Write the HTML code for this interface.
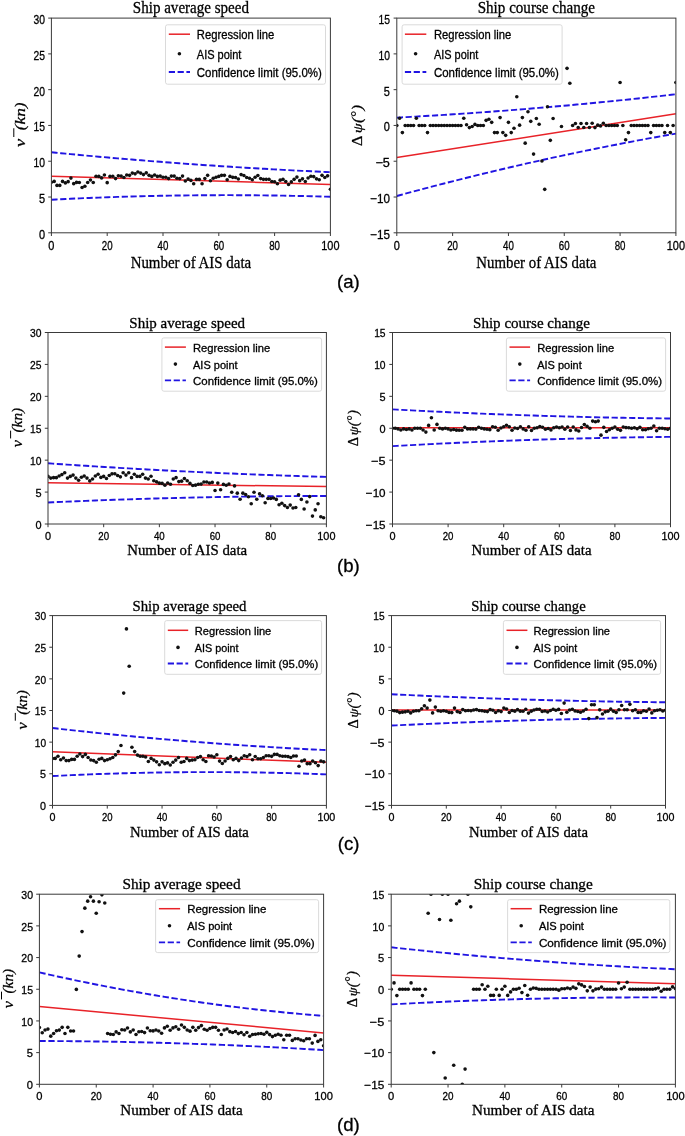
<!DOCTYPE html>
<html><head><meta charset="utf-8"><style>
html,body{margin:0;padding:0;background:#fff;}
body{width:685px;height:1136px;overflow:hidden;}
svg{display:block;filter:blur(0.4px);}
</style></head><body>
<svg width="685" height="1136" viewBox="0 0 685 1136">
<rect width="685" height="1136" fill="#fff"/>
<clipPath id="caL"><rect x="51.4" y="18.1" width="279.0" height="214.70000000000002"/></clipPath>
<g clip-path="url(#caL)">
<polyline points="51.40,152.29 56.13,152.75 60.86,153.21 65.59,153.66 70.32,154.11 75.04,154.55 79.77,154.99 84.50,155.43 89.23,155.86 93.96,156.28 98.69,156.71 103.42,157.13 108.15,157.54 112.87,157.95 117.60,158.36 122.33,158.76 127.06,159.15 131.79,159.55 136.52,159.94 141.25,160.32 145.98,160.70 150.71,161.08 155.43,161.45 160.16,161.81 164.89,162.18 169.62,162.54 174.35,162.89 179.08,163.24 183.81,163.59 188.54,163.93 193.26,164.26 197.99,164.60 202.72,164.93 207.45,165.25 212.18,165.57 216.91,165.89 221.64,166.20 226.37,166.50 231.09,166.81 235.82,167.11 240.55,167.40 245.28,167.69 250.01,167.98 254.74,168.26 259.47,168.54 264.20,168.81 268.93,169.08 273.65,169.34 278.38,169.60 283.11,169.86 287.84,170.11 292.57,170.36 297.30,170.60 302.03,170.84 306.76,171.07 311.48,171.30 316.21,171.53 320.94,171.75 325.67,171.97 330.40,172.18" fill="none" stroke="#2014e2" stroke-width="1.9" stroke-dasharray="6.20 2.60"/>
<polyline points="51.40,199.72 56.13,199.47 60.86,199.24 65.59,199.01 70.32,198.78 75.04,198.57 79.77,198.36 84.50,198.15 89.23,197.96 93.96,197.77 98.69,197.59 103.42,197.41 108.15,197.24 112.87,197.08 117.60,196.92 122.33,196.77 127.06,196.63 131.79,196.49 136.52,196.36 141.25,196.24 145.98,196.12 150.71,196.01 155.43,195.91 160.16,195.82 164.89,195.73 169.62,195.64 174.35,195.57 179.08,195.50 183.81,195.43 188.54,195.38 193.26,195.33 197.99,195.29 202.72,195.25 207.45,195.22 212.18,195.20 216.91,195.18 221.64,195.17 226.37,195.17 231.09,195.17 235.82,195.18 240.55,195.20 245.28,195.22 250.01,195.25 254.74,195.29 259.47,195.34 264.20,195.39 268.93,195.44 273.65,195.51 278.38,195.58 283.11,195.65 287.84,195.74 292.57,195.83 297.30,195.93 302.03,196.03 306.76,196.14 311.48,196.26 316.21,196.38 320.94,196.51 325.67,196.65 330.40,196.79" fill="none" stroke="#2014e2" stroke-width="1.9" stroke-dasharray="6.20 2.60"/>
<line x1="51.40" y1="176.26" x2="330.40" y2="184.49" stroke="#e82228" stroke-width="1.5"/>
<circle cx="51.40" cy="182.20" r="1.8" fill="#111"/>
<circle cx="54.19" cy="181.42" r="1.8" fill="#111"/>
<circle cx="56.98" cy="185.42" r="1.8" fill="#111"/>
<circle cx="59.77" cy="185.42" r="1.8" fill="#111"/>
<circle cx="62.56" cy="181.42" r="1.8" fill="#111"/>
<circle cx="65.35" cy="182.92" r="1.8" fill="#111"/>
<circle cx="68.14" cy="181.63" r="1.8" fill="#111"/>
<circle cx="70.93" cy="178.12" r="1.8" fill="#111"/>
<circle cx="73.72" cy="183.63" r="1.8" fill="#111"/>
<circle cx="76.51" cy="182.42" r="1.8" fill="#111"/>
<circle cx="79.30" cy="182.56" r="1.8" fill="#111"/>
<circle cx="82.09" cy="187.50" r="1.8" fill="#111"/>
<circle cx="84.88" cy="186.21" r="1.8" fill="#111"/>
<circle cx="87.67" cy="182.56" r="1.8" fill="#111"/>
<circle cx="90.46" cy="179.98" r="1.8" fill="#111"/>
<circle cx="93.25" cy="182.56" r="1.8" fill="#111"/>
<circle cx="96.04" cy="176.19" r="1.8" fill="#111"/>
<circle cx="98.83" cy="176.41" r="1.8" fill="#111"/>
<circle cx="101.62" cy="177.91" r="1.8" fill="#111"/>
<circle cx="104.41" cy="174.97" r="1.8" fill="#111"/>
<circle cx="107.20" cy="182.63" r="1.8" fill="#111"/>
<circle cx="109.99" cy="176.41" r="1.8" fill="#111"/>
<circle cx="112.78" cy="176.26" r="1.8" fill="#111"/>
<circle cx="115.57" cy="178.62" r="1.8" fill="#111"/>
<circle cx="118.36" cy="175.69" r="1.8" fill="#111"/>
<circle cx="121.15" cy="176.12" r="1.8" fill="#111"/>
<circle cx="123.94" cy="177.48" r="1.8" fill="#111"/>
<circle cx="126.73" cy="174.97" r="1.8" fill="#111"/>
<circle cx="129.52" cy="175.33" r="1.8" fill="#111"/>
<circle cx="132.31" cy="173.11" r="1.8" fill="#111"/>
<circle cx="135.10" cy="173.83" r="1.8" fill="#111"/>
<circle cx="137.89" cy="171.97" r="1.8" fill="#111"/>
<circle cx="140.68" cy="173.11" r="1.8" fill="#111"/>
<circle cx="143.47" cy="174.62" r="1.8" fill="#111"/>
<circle cx="146.26" cy="172.83" r="1.8" fill="#111"/>
<circle cx="149.05" cy="175.33" r="1.8" fill="#111"/>
<circle cx="151.84" cy="176.41" r="1.8" fill="#111"/>
<circle cx="154.63" cy="174.97" r="1.8" fill="#111"/>
<circle cx="157.42" cy="176.41" r="1.8" fill="#111"/>
<circle cx="160.21" cy="176.12" r="1.8" fill="#111"/>
<circle cx="163.00" cy="177.19" r="1.8" fill="#111"/>
<circle cx="165.79" cy="177.19" r="1.8" fill="#111"/>
<circle cx="168.58" cy="178.62" r="1.8" fill="#111"/>
<circle cx="171.37" cy="176.12" r="1.8" fill="#111"/>
<circle cx="174.16" cy="176.12" r="1.8" fill="#111"/>
<circle cx="176.95" cy="178.27" r="1.8" fill="#111"/>
<circle cx="179.74" cy="178.62" r="1.8" fill="#111"/>
<circle cx="182.53" cy="176.12" r="1.8" fill="#111"/>
<circle cx="185.32" cy="180.99" r="1.8" fill="#111"/>
<circle cx="188.11" cy="179.12" r="1.8" fill="#111"/>
<circle cx="190.90" cy="180.41" r="1.8" fill="#111"/>
<circle cx="193.69" cy="183.71" r="1.8" fill="#111"/>
<circle cx="196.48" cy="179.34" r="1.8" fill="#111"/>
<circle cx="199.27" cy="179.34" r="1.8" fill="#111"/>
<circle cx="202.06" cy="183.71" r="1.8" fill="#111"/>
<circle cx="204.85" cy="178.62" r="1.8" fill="#111"/>
<circle cx="207.64" cy="175.33" r="1.8" fill="#111"/>
<circle cx="210.43" cy="180.77" r="1.8" fill="#111"/>
<circle cx="213.22" cy="178.27" r="1.8" fill="#111"/>
<circle cx="216.01" cy="177.19" r="1.8" fill="#111"/>
<circle cx="218.80" cy="176.41" r="1.8" fill="#111"/>
<circle cx="221.59" cy="175.33" r="1.8" fill="#111"/>
<circle cx="224.38" cy="175.33" r="1.8" fill="#111"/>
<circle cx="227.17" cy="179.70" r="1.8" fill="#111"/>
<circle cx="229.96" cy="176.41" r="1.8" fill="#111"/>
<circle cx="232.75" cy="177.34" r="1.8" fill="#111"/>
<circle cx="235.54" cy="177.48" r="1.8" fill="#111"/>
<circle cx="238.33" cy="178.98" r="1.8" fill="#111"/>
<circle cx="241.12" cy="174.62" r="1.8" fill="#111"/>
<circle cx="243.91" cy="175.55" r="1.8" fill="#111"/>
<circle cx="246.70" cy="177.48" r="1.8" fill="#111"/>
<circle cx="249.49" cy="178.27" r="1.8" fill="#111"/>
<circle cx="252.28" cy="179.70" r="1.8" fill="#111"/>
<circle cx="255.07" cy="177.19" r="1.8" fill="#111"/>
<circle cx="257.86" cy="175.55" r="1.8" fill="#111"/>
<circle cx="260.65" cy="178.62" r="1.8" fill="#111"/>
<circle cx="263.44" cy="179.34" r="1.8" fill="#111"/>
<circle cx="266.23" cy="179.34" r="1.8" fill="#111"/>
<circle cx="269.02" cy="179.34" r="1.8" fill="#111"/>
<circle cx="271.81" cy="181.49" r="1.8" fill="#111"/>
<circle cx="274.60" cy="181.70" r="1.8" fill="#111"/>
<circle cx="277.39" cy="183.71" r="1.8" fill="#111"/>
<circle cx="280.18" cy="180.13" r="1.8" fill="#111"/>
<circle cx="282.97" cy="179.34" r="1.8" fill="#111"/>
<circle cx="285.76" cy="181.49" r="1.8" fill="#111"/>
<circle cx="288.55" cy="184.49" r="1.8" fill="#111"/>
<circle cx="291.34" cy="181.92" r="1.8" fill="#111"/>
<circle cx="294.13" cy="179.34" r="1.8" fill="#111"/>
<circle cx="296.92" cy="177.12" r="1.8" fill="#111"/>
<circle cx="299.71" cy="180.63" r="1.8" fill="#111"/>
<circle cx="302.50" cy="178.84" r="1.8" fill="#111"/>
<circle cx="305.29" cy="181.49" r="1.8" fill="#111"/>
<circle cx="308.08" cy="178.05" r="1.8" fill="#111"/>
<circle cx="310.87" cy="176.19" r="1.8" fill="#111"/>
<circle cx="313.66" cy="176.62" r="1.8" fill="#111"/>
<circle cx="316.45" cy="178.84" r="1.8" fill="#111"/>
<circle cx="319.24" cy="179.70" r="1.8" fill="#111"/>
<circle cx="322.03" cy="175.33" r="1.8" fill="#111"/>
<circle cx="324.82" cy="177.55" r="1.8" fill="#111"/>
<circle cx="327.61" cy="175.83" r="1.8" fill="#111"/>
<circle cx="330.40" cy="189.29" r="1.8" fill="#111"/>
</g>
<rect x="51.40" y="18.10" width="279.00" height="214.70" fill="none" stroke="#3a3a3a" stroke-width="1.0"/>
<line x1="48.20" y1="232.80" x2="51.40" y2="232.80" stroke="#3a3a3a" stroke-width="1.0" />
<text x="45.00" y="238.70" font-size="12.30" font-family='"Liberation Sans", sans-serif' text-anchor="end" fill="#000" textLength="6.10" lengthAdjust="spacingAndGlyphs" stroke="#000" stroke-width="0.3" >0</text>
<line x1="48.20" y1="197.02" x2="51.40" y2="197.02" stroke="#3a3a3a" stroke-width="1.0" />
<text x="45.00" y="202.92" font-size="12.30" font-family='"Liberation Sans", sans-serif' text-anchor="end" fill="#000" textLength="6.10" lengthAdjust="spacingAndGlyphs" stroke="#000" stroke-width="0.3" >5</text>
<line x1="48.20" y1="161.23" x2="51.40" y2="161.23" stroke="#3a3a3a" stroke-width="1.0" />
<text x="45.00" y="167.13" font-size="12.30" font-family='"Liberation Sans", sans-serif' text-anchor="end" fill="#000" textLength="11.50" lengthAdjust="spacingAndGlyphs" stroke="#000" stroke-width="0.3" >10</text>
<line x1="48.20" y1="125.45" x2="51.40" y2="125.45" stroke="#3a3a3a" stroke-width="1.0" />
<text x="45.00" y="131.35" font-size="12.30" font-family='"Liberation Sans", sans-serif' text-anchor="end" fill="#000" textLength="11.50" lengthAdjust="spacingAndGlyphs" stroke="#000" stroke-width="0.3" >15</text>
<line x1="48.20" y1="89.67" x2="51.40" y2="89.67" stroke="#3a3a3a" stroke-width="1.0" />
<text x="45.00" y="95.57" font-size="12.30" font-family='"Liberation Sans", sans-serif' text-anchor="end" fill="#000" textLength="11.50" lengthAdjust="spacingAndGlyphs" stroke="#000" stroke-width="0.3" >20</text>
<line x1="48.20" y1="53.88" x2="51.40" y2="53.88" stroke="#3a3a3a" stroke-width="1.0" />
<text x="45.00" y="59.78" font-size="12.30" font-family='"Liberation Sans", sans-serif' text-anchor="end" fill="#000" textLength="11.50" lengthAdjust="spacingAndGlyphs" stroke="#000" stroke-width="0.3" >25</text>
<line x1="48.20" y1="18.10" x2="51.40" y2="18.10" stroke="#3a3a3a" stroke-width="1.0" />
<text x="45.00" y="24.00" font-size="12.30" font-family='"Liberation Sans", sans-serif' text-anchor="end" fill="#000" textLength="11.50" lengthAdjust="spacingAndGlyphs" stroke="#000" stroke-width="0.3" >30</text>
<line x1="51.40" y1="232.80" x2="51.40" y2="236.00" stroke="#3a3a3a" stroke-width="1.0" />
<text x="51.40" y="249.90" font-size="12.30" font-family='"Liberation Sans", sans-serif' text-anchor="middle" fill="#000" textLength="6.10" lengthAdjust="spacingAndGlyphs" stroke="#000" stroke-width="0.3" >0</text>
<line x1="107.20" y1="232.80" x2="107.20" y2="236.00" stroke="#3a3a3a" stroke-width="1.0" />
<text x="107.20" y="249.90" font-size="12.30" font-family='"Liberation Sans", sans-serif' text-anchor="middle" fill="#000" textLength="10.80" lengthAdjust="spacingAndGlyphs" stroke="#000" stroke-width="0.3" >20</text>
<line x1="163.00" y1="232.80" x2="163.00" y2="236.00" stroke="#3a3a3a" stroke-width="1.0" />
<text x="163.00" y="249.90" font-size="12.30" font-family='"Liberation Sans", sans-serif' text-anchor="middle" fill="#000" textLength="10.80" lengthAdjust="spacingAndGlyphs" stroke="#000" stroke-width="0.3" >40</text>
<line x1="218.80" y1="232.80" x2="218.80" y2="236.00" stroke="#3a3a3a" stroke-width="1.0" />
<text x="218.80" y="249.90" font-size="12.30" font-family='"Liberation Sans", sans-serif' text-anchor="middle" fill="#000" textLength="10.80" lengthAdjust="spacingAndGlyphs" stroke="#000" stroke-width="0.3" >60</text>
<line x1="274.60" y1="232.80" x2="274.60" y2="236.00" stroke="#3a3a3a" stroke-width="1.0" />
<text x="274.60" y="249.90" font-size="12.30" font-family='"Liberation Sans", sans-serif' text-anchor="middle" fill="#000" textLength="10.80" lengthAdjust="spacingAndGlyphs" stroke="#000" stroke-width="0.3" >80</text>
<line x1="330.40" y1="232.80" x2="330.40" y2="236.00" stroke="#3a3a3a" stroke-width="1.0" />
<text x="330.40" y="249.90" font-size="12.30" font-family='"Liberation Sans", sans-serif' text-anchor="middle" fill="#000" textLength="18.20" lengthAdjust="spacingAndGlyphs" stroke="#000" stroke-width="0.3" >100</text>
<text x="190.90" y="12.50" font-size="17.00" font-family='"Liberation Serif", serif' text-anchor="middle" fill="#000" textLength="116.10" lengthAdjust="spacingAndGlyphs" stroke="#000" stroke-width="0.3" >Ship average speed</text>
<text x="190.90" y="268.40" font-size="17.00" font-family='"Liberation Serif", serif' text-anchor="middle" fill="#000" textLength="120.50" lengthAdjust="spacingAndGlyphs" stroke="#000" stroke-width="0.3" >Number of AIS data</text>
<g transform="translate(25.10,146.24) rotate(-90) scale(1.13,1)" font-family='"Liberation Serif", serif' font-style="italic" fill="#000" stroke="#000" stroke-width="0.25"><text x="-0.6" y="0" font-size="14.6" textLength="7.2" lengthAdjust="spacingAndGlyphs">v</text><line x1="8.2" y1="-11.3" x2="16.0" y2="-11.3" stroke="#000" stroke-width="1.0"/><text x="14.2" y="0" font-size="14.6" textLength="24.6" lengthAdjust="spacingAndGlyphs">(kn)</text></g>
<rect x="165.50" y="24.80" width="160.00" height="59.40" rx="2" ry="2" fill="#fff" fill-opacity="0.8" stroke="#d6d6d6" stroke-width="0.9"/>
<line x1="168.80" y1="34.20" x2="190.00" y2="34.20" stroke="#e82228" stroke-width="1.5"/>
<circle cx="179.40" cy="53.80" r="1.8" fill="#111"/>
<line x1="168.80" y1="72.00" x2="190.00" y2="72.00" stroke="#2014e2" stroke-width="1.9" stroke-dasharray="6.2 2.6"/>
<text x="196.80" y="39.20" font-size="12.40" font-family='"Liberation Sans", sans-serif' text-anchor="start" fill="#000" textLength="77.51" lengthAdjust="spacingAndGlyphs" stroke="#000" stroke-width="0.3" >Regression line</text>
<text x="196.80" y="58.80" font-size="12.40" font-family='"Liberation Sans", sans-serif' text-anchor="start" fill="#000" textLength="44.60" lengthAdjust="spacingAndGlyphs" stroke="#000" stroke-width="0.3" >AIS point</text>
<text x="196.80" y="77.00" font-size="12.40" font-family='"Liberation Sans", sans-serif' text-anchor="start" fill="#000" textLength="125.03" lengthAdjust="spacingAndGlyphs" stroke="#000" stroke-width="0.3" >Confidence limit (95.0%)</text>
<clipPath id="caR"><rect x="396.8" y="18.1" width="279.09999999999997" height="214.70000000000002"/></clipPath>
<g clip-path="url(#caR)">
<polyline points="396.80,117.62 401.53,117.37 406.26,117.11 410.99,116.85 415.72,116.58 420.45,116.31 425.18,116.04 429.91,115.75 434.64,115.47 439.37,115.18 444.11,114.88 448.84,114.58 453.57,114.28 458.30,113.96 463.03,113.65 467.76,113.33 472.49,113.00 477.22,112.67 481.95,112.33 486.68,111.99 491.41,111.65 496.14,111.30 500.87,110.94 505.60,110.58 510.33,110.21 515.06,109.84 519.79,109.47 524.52,109.09 529.25,108.70 533.98,108.31 538.72,107.91 543.45,107.51 548.18,107.11 552.91,106.70 557.64,106.28 562.37,105.86 567.10,105.43 571.83,105.00 576.56,104.57 581.29,104.13 586.02,103.68 590.75,103.23 595.48,102.78 600.21,102.31 604.94,101.85 609.67,101.38 614.40,100.90 619.13,100.42 623.86,99.94 628.59,99.44 633.33,98.95 638.06,98.45 642.79,97.94 647.52,97.43 652.25,96.92 656.98,96.40 661.71,95.87 666.44,95.34 671.17,94.80 675.90,94.26" fill="none" stroke="#2014e2" stroke-width="1.9" stroke-dasharray="6.20 2.60"/>
<polyline points="396.80,196.00 401.53,194.71 406.26,193.43 410.99,192.16 415.72,190.89 420.45,189.64 425.18,188.39 429.91,187.15 434.64,185.92 439.37,184.69 444.11,183.48 448.84,182.27 453.57,181.07 458.30,179.87 463.03,178.69 467.76,177.51 472.49,176.34 477.22,175.18 481.95,174.03 486.68,172.89 491.41,171.75 496.14,170.62 500.87,169.50 505.60,168.39 510.33,167.28 515.06,166.18 519.79,165.09 524.52,164.01 529.25,162.94 533.98,161.87 538.72,160.82 543.45,159.77 548.18,158.72 552.91,157.69 557.64,156.66 562.37,155.65 567.10,154.64 571.83,153.63 576.56,152.64 581.29,151.65 586.02,150.68 590.75,149.71 595.48,148.74 600.21,147.79 604.94,146.84 609.67,145.90 614.40,144.97 619.13,144.05 623.86,143.14 628.59,142.23 633.33,141.33 638.06,140.44 642.79,139.56 647.52,138.68 652.25,137.81 656.98,136.95 661.71,136.10 666.44,135.26 671.17,134.42 675.90,133.60" fill="none" stroke="#2014e2" stroke-width="1.9" stroke-dasharray="6.20 2.60"/>
<line x1="396.80" y1="157.44" x2="675.90" y2="113.86" stroke="#e82228" stroke-width="1.5"/>
<circle cx="396.80" cy="125.45" r="1.8" fill="#111"/>
<circle cx="399.59" cy="118.29" r="1.8" fill="#111"/>
<circle cx="402.38" cy="132.61" r="1.8" fill="#111"/>
<circle cx="405.17" cy="125.45" r="1.8" fill="#111"/>
<circle cx="407.96" cy="125.45" r="1.8" fill="#111"/>
<circle cx="410.75" cy="125.45" r="1.8" fill="#111"/>
<circle cx="413.55" cy="125.45" r="1.8" fill="#111"/>
<circle cx="416.34" cy="118.29" r="1.8" fill="#111"/>
<circle cx="419.13" cy="125.45" r="1.8" fill="#111"/>
<circle cx="421.92" cy="125.45" r="1.8" fill="#111"/>
<circle cx="424.71" cy="125.45" r="1.8" fill="#111"/>
<circle cx="427.50" cy="132.61" r="1.8" fill="#111"/>
<circle cx="430.29" cy="125.45" r="1.8" fill="#111"/>
<circle cx="433.08" cy="125.45" r="1.8" fill="#111"/>
<circle cx="435.87" cy="125.45" r="1.8" fill="#111"/>
<circle cx="438.67" cy="125.45" r="1.8" fill="#111"/>
<circle cx="441.46" cy="125.45" r="1.8" fill="#111"/>
<circle cx="444.25" cy="125.45" r="1.8" fill="#111"/>
<circle cx="447.04" cy="125.45" r="1.8" fill="#111"/>
<circle cx="449.83" cy="125.45" r="1.8" fill="#111"/>
<circle cx="452.62" cy="125.45" r="1.8" fill="#111"/>
<circle cx="455.41" cy="125.45" r="1.8" fill="#111"/>
<circle cx="458.20" cy="125.45" r="1.8" fill="#111"/>
<circle cx="460.99" cy="125.45" r="1.8" fill="#111"/>
<circle cx="463.78" cy="118.29" r="1.8" fill="#111"/>
<circle cx="466.57" cy="124.73" r="1.8" fill="#111"/>
<circle cx="469.37" cy="127.60" r="1.8" fill="#111"/>
<circle cx="472.16" cy="126.52" r="1.8" fill="#111"/>
<circle cx="474.95" cy="124.38" r="1.8" fill="#111"/>
<circle cx="477.74" cy="125.45" r="1.8" fill="#111"/>
<circle cx="480.53" cy="125.45" r="1.8" fill="#111"/>
<circle cx="483.32" cy="125.45" r="1.8" fill="#111"/>
<circle cx="486.11" cy="120.37" r="1.8" fill="#111"/>
<circle cx="488.90" cy="119.30" r="1.8" fill="#111"/>
<circle cx="491.69" cy="122.37" r="1.8" fill="#111"/>
<circle cx="494.49" cy="132.61" r="1.8" fill="#111"/>
<circle cx="497.28" cy="132.61" r="1.8" fill="#111"/>
<circle cx="500.07" cy="117.58" r="1.8" fill="#111"/>
<circle cx="502.86" cy="132.61" r="1.8" fill="#111"/>
<circle cx="505.65" cy="135.33" r="1.8" fill="#111"/>
<circle cx="508.44" cy="122.37" r="1.8" fill="#111"/>
<circle cx="511.23" cy="132.61" r="1.8" fill="#111"/>
<circle cx="514.02" cy="128.24" r="1.8" fill="#111"/>
<circle cx="516.81" cy="96.82" r="1.8" fill="#111"/>
<circle cx="519.60" cy="125.16" r="1.8" fill="#111"/>
<circle cx="522.39" cy="117.58" r="1.8" fill="#111"/>
<circle cx="525.19" cy="143.13" r="1.8" fill="#111"/>
<circle cx="527.98" cy="111.71" r="1.8" fill="#111"/>
<circle cx="530.77" cy="121.37" r="1.8" fill="#111"/>
<circle cx="533.56" cy="154.08" r="1.8" fill="#111"/>
<circle cx="536.35" cy="118.44" r="1.8" fill="#111"/>
<circle cx="539.14" cy="124.23" r="1.8" fill="#111"/>
<circle cx="541.93" cy="161.02" r="1.8" fill="#111"/>
<circle cx="544.72" cy="189.36" r="1.8" fill="#111"/>
<circle cx="547.51" cy="106.77" r="1.8" fill="#111"/>
<circle cx="550.31" cy="140.34" r="1.8" fill="#111"/>
<circle cx="553.10" cy="118.44" r="1.8" fill="#111"/>
<circle cx="561.47" cy="126.45" r="1.8" fill="#111"/>
<circle cx="567.05" cy="68.34" r="1.8" fill="#111"/>
<circle cx="569.84" cy="83.23" r="1.8" fill="#111"/>
<circle cx="572.63" cy="125.45" r="1.8" fill="#111"/>
<circle cx="575.42" cy="123.45" r="1.8" fill="#111"/>
<circle cx="578.21" cy="127.53" r="1.8" fill="#111"/>
<circle cx="581.01" cy="123.45" r="1.8" fill="#111"/>
<circle cx="583.80" cy="127.53" r="1.8" fill="#111"/>
<circle cx="586.59" cy="123.45" r="1.8" fill="#111"/>
<circle cx="589.38" cy="127.53" r="1.8" fill="#111"/>
<circle cx="592.17" cy="123.30" r="1.8" fill="#111"/>
<circle cx="594.96" cy="127.60" r="1.8" fill="#111"/>
<circle cx="597.75" cy="125.16" r="1.8" fill="#111"/>
<circle cx="600.54" cy="125.88" r="1.8" fill="#111"/>
<circle cx="603.33" cy="123.30" r="1.8" fill="#111"/>
<circle cx="606.12" cy="125.45" r="1.8" fill="#111"/>
<circle cx="608.92" cy="125.45" r="1.8" fill="#111"/>
<circle cx="611.71" cy="125.45" r="1.8" fill="#111"/>
<circle cx="614.50" cy="125.45" r="1.8" fill="#111"/>
<circle cx="617.29" cy="125.45" r="1.8" fill="#111"/>
<circle cx="620.08" cy="82.51" r="1.8" fill="#111"/>
<circle cx="622.87" cy="125.45" r="1.8" fill="#111"/>
<circle cx="625.66" cy="139.76" r="1.8" fill="#111"/>
<circle cx="628.45" cy="132.61" r="1.8" fill="#111"/>
<circle cx="631.24" cy="125.45" r="1.8" fill="#111"/>
<circle cx="634.03" cy="125.45" r="1.8" fill="#111"/>
<circle cx="636.83" cy="125.45" r="1.8" fill="#111"/>
<circle cx="639.62" cy="125.45" r="1.8" fill="#111"/>
<circle cx="642.41" cy="125.45" r="1.8" fill="#111"/>
<circle cx="645.20" cy="125.45" r="1.8" fill="#111"/>
<circle cx="647.99" cy="125.45" r="1.8" fill="#111"/>
<circle cx="650.78" cy="132.61" r="1.8" fill="#111"/>
<circle cx="653.57" cy="125.45" r="1.8" fill="#111"/>
<circle cx="656.36" cy="125.45" r="1.8" fill="#111"/>
<circle cx="659.15" cy="125.45" r="1.8" fill="#111"/>
<circle cx="661.94" cy="125.45" r="1.8" fill="#111"/>
<circle cx="664.74" cy="132.61" r="1.8" fill="#111"/>
<circle cx="667.53" cy="125.45" r="1.8" fill="#111"/>
<circle cx="670.32" cy="132.61" r="1.8" fill="#111"/>
<circle cx="673.11" cy="125.45" r="1.8" fill="#111"/>
<circle cx="675.90" cy="82.51" r="1.8" fill="#111"/>
</g>
<rect x="396.80" y="18.10" width="279.10" height="214.70" fill="none" stroke="#3a3a3a" stroke-width="1.0"/>
<line x1="393.60" y1="232.80" x2="396.80" y2="232.80" stroke="#3a3a3a" stroke-width="1.0" />
<text x="389.90" y="238.70" font-size="12.30" font-family='"Liberation Sans", sans-serif' text-anchor="end" fill="#000" textLength="19.80" lengthAdjust="spacingAndGlyphs" stroke="#000" stroke-width="0.3" >−15</text>
<line x1="393.60" y1="197.02" x2="396.80" y2="197.02" stroke="#3a3a3a" stroke-width="1.0" />
<text x="389.90" y="202.92" font-size="12.30" font-family='"Liberation Sans", sans-serif' text-anchor="end" fill="#000" textLength="19.80" lengthAdjust="spacingAndGlyphs" stroke="#000" stroke-width="0.3" >−10</text>
<line x1="393.60" y1="161.23" x2="396.80" y2="161.23" stroke="#3a3a3a" stroke-width="1.0" />
<text x="389.90" y="167.13" font-size="12.30" font-family='"Liberation Sans", sans-serif' text-anchor="end" fill="#000" textLength="14.40" lengthAdjust="spacingAndGlyphs" stroke="#000" stroke-width="0.3" >−5</text>
<line x1="393.60" y1="125.45" x2="396.80" y2="125.45" stroke="#3a3a3a" stroke-width="1.0" />
<text x="389.90" y="131.35" font-size="12.30" font-family='"Liberation Sans", sans-serif' text-anchor="end" fill="#000" textLength="6.10" lengthAdjust="spacingAndGlyphs" stroke="#000" stroke-width="0.3" >0</text>
<line x1="393.60" y1="89.67" x2="396.80" y2="89.67" stroke="#3a3a3a" stroke-width="1.0" />
<text x="389.90" y="95.57" font-size="12.30" font-family='"Liberation Sans", sans-serif' text-anchor="end" fill="#000" textLength="6.10" lengthAdjust="spacingAndGlyphs" stroke="#000" stroke-width="0.3" >5</text>
<line x1="393.60" y1="53.88" x2="396.80" y2="53.88" stroke="#3a3a3a" stroke-width="1.0" />
<text x="389.90" y="59.78" font-size="12.30" font-family='"Liberation Sans", sans-serif' text-anchor="end" fill="#000" textLength="11.50" lengthAdjust="spacingAndGlyphs" stroke="#000" stroke-width="0.3" >10</text>
<line x1="393.60" y1="18.10" x2="396.80" y2="18.10" stroke="#3a3a3a" stroke-width="1.0" />
<text x="389.90" y="24.00" font-size="12.30" font-family='"Liberation Sans", sans-serif' text-anchor="end" fill="#000" textLength="11.50" lengthAdjust="spacingAndGlyphs" stroke="#000" stroke-width="0.3" >15</text>
<line x1="396.80" y1="232.80" x2="396.80" y2="236.00" stroke="#3a3a3a" stroke-width="1.0" />
<text x="396.80" y="249.90" font-size="12.30" font-family='"Liberation Sans", sans-serif' text-anchor="middle" fill="#000" textLength="6.10" lengthAdjust="spacingAndGlyphs" stroke="#000" stroke-width="0.3" >0</text>
<line x1="452.62" y1="232.80" x2="452.62" y2="236.00" stroke="#3a3a3a" stroke-width="1.0" />
<text x="452.62" y="249.90" font-size="12.30" font-family='"Liberation Sans", sans-serif' text-anchor="middle" fill="#000" textLength="10.80" lengthAdjust="spacingAndGlyphs" stroke="#000" stroke-width="0.3" >20</text>
<line x1="508.44" y1="232.80" x2="508.44" y2="236.00" stroke="#3a3a3a" stroke-width="1.0" />
<text x="508.44" y="249.90" font-size="12.30" font-family='"Liberation Sans", sans-serif' text-anchor="middle" fill="#000" textLength="10.80" lengthAdjust="spacingAndGlyphs" stroke="#000" stroke-width="0.3" >40</text>
<line x1="564.26" y1="232.80" x2="564.26" y2="236.00" stroke="#3a3a3a" stroke-width="1.0" />
<text x="564.26" y="249.90" font-size="12.30" font-family='"Liberation Sans", sans-serif' text-anchor="middle" fill="#000" textLength="10.80" lengthAdjust="spacingAndGlyphs" stroke="#000" stroke-width="0.3" >60</text>
<line x1="620.08" y1="232.80" x2="620.08" y2="236.00" stroke="#3a3a3a" stroke-width="1.0" />
<text x="620.08" y="249.90" font-size="12.30" font-family='"Liberation Sans", sans-serif' text-anchor="middle" fill="#000" textLength="10.80" lengthAdjust="spacingAndGlyphs" stroke="#000" stroke-width="0.3" >80</text>
<line x1="675.90" y1="232.80" x2="675.90" y2="236.00" stroke="#3a3a3a" stroke-width="1.0" />
<text x="675.90" y="249.90" font-size="12.30" font-family='"Liberation Sans", sans-serif' text-anchor="middle" fill="#000" textLength="18.21" lengthAdjust="spacingAndGlyphs" stroke="#000" stroke-width="0.3" >100</text>
<text x="536.35" y="12.50" font-size="17.00" font-family='"Liberation Serif", serif' text-anchor="middle" fill="#000" textLength="117.30" lengthAdjust="spacingAndGlyphs" stroke="#000" stroke-width="0.3" >Ship course change</text>
<text x="536.35" y="268.40" font-size="17.00" font-family='"Liberation Serif", serif' text-anchor="middle" fill="#000" textLength="120.00" lengthAdjust="spacingAndGlyphs" stroke="#000" stroke-width="0.3" >Number of AIS data</text>
<g transform="translate(362.00,145.68) rotate(-90) scale(1.13,1)" font-family='"Liberation Serif", serif' fill="#000" stroke="#000" stroke-width="0.25"><text x="-0.2" y="0" font-size="14.2" textLength="9.2" lengthAdjust="spacingAndGlyphs">Δ</text><text x="10.9" y="0" font-size="12.4" font-style="italic" textLength="8.8" lengthAdjust="spacingAndGlyphs">ψ</text><text x="20.0" y="0" font-size="14.2" font-style="italic" textLength="4.9" lengthAdjust="spacingAndGlyphs">(</text><text x="25.6" y="-1.2" font-size="14.5" textLength="5.2" lengthAdjust="spacingAndGlyphs">°</text><text x="31.2" y="0" font-size="14.2" font-style="italic" textLength="4.9" lengthAdjust="spacingAndGlyphs">)</text></g>
<rect x="402.10" y="24.80" width="160.00" height="59.40" rx="2" ry="2" fill="#fff" fill-opacity="0.8" stroke="#d6d6d6" stroke-width="0.9"/>
<line x1="404.90" y1="34.20" x2="426.30" y2="34.20" stroke="#e82228" stroke-width="1.5"/>
<circle cx="415.60" cy="53.80" r="1.8" fill="#111"/>
<line x1="404.90" y1="72.00" x2="426.30" y2="72.00" stroke="#2014e2" stroke-width="1.9" stroke-dasharray="6.2 2.6"/>
<text x="433.90" y="39.20" font-size="12.40" font-family='"Liberation Sans", sans-serif' text-anchor="start" fill="#000" textLength="77.41" lengthAdjust="spacingAndGlyphs" stroke="#000" stroke-width="0.3" >Regression line</text>
<text x="433.90" y="58.80" font-size="12.40" font-family='"Liberation Sans", sans-serif' text-anchor="start" fill="#000" textLength="44.40" lengthAdjust="spacingAndGlyphs" stroke="#000" stroke-width="0.3" >AIS point</text>
<text x="433.90" y="77.00" font-size="12.40" font-family='"Liberation Sans", sans-serif' text-anchor="start" fill="#000" textLength="124.93" lengthAdjust="spacingAndGlyphs" stroke="#000" stroke-width="0.3" >Confidence limit (95.0%)</text>
<clipPath id="cbL"><rect x="48.0" y="332.5" width="278.4" height="191.5"/></clipPath>
<g clip-path="url(#cbL)">
<polyline points="48.00,463.29 52.72,463.62 57.44,463.94 62.16,464.26 66.87,464.58 71.59,464.89 76.31,465.20 81.03,465.51 85.75,465.81 90.47,466.11 95.19,466.41 99.91,466.70 104.62,466.99 109.34,467.28 114.06,467.56 118.78,467.84 123.50,468.12 128.22,468.39 132.94,468.66 137.65,468.93 142.37,469.19 147.09,469.45 151.81,469.71 156.53,469.96 161.25,470.21 165.97,470.46 170.68,470.70 175.40,470.94 180.12,471.18 184.84,471.41 189.56,471.64 194.28,471.87 199.00,472.09 203.72,472.32 208.43,472.53 213.15,472.75 217.87,472.96 222.59,473.16 227.31,473.37 232.03,473.57 236.75,473.77 241.46,473.96 246.18,474.15 250.90,474.34 255.62,474.52 260.34,474.70 265.06,474.88 269.78,475.06 274.49,475.23 279.21,475.40 283.93,475.56 288.65,475.72 293.37,475.88 298.09,476.03 302.81,476.18 307.53,476.33 312.24,476.48 316.96,476.62 321.68,476.76 326.40,476.89" fill="none" stroke="#2014e2" stroke-width="1.9" stroke-dasharray="6.19 2.59"/>
<polyline points="48.00,502.47 52.72,502.26 57.44,502.05 62.16,501.84 66.87,501.64 71.59,501.44 76.31,501.25 81.03,501.06 85.75,500.87 90.47,500.68 95.19,500.50 99.91,500.33 104.62,500.15 109.34,499.98 114.06,499.82 118.78,499.65 123.50,499.49 128.22,499.34 132.94,499.18 137.65,499.03 142.37,498.89 147.09,498.75 151.81,498.61 156.53,498.47 161.25,498.34 165.97,498.21 170.68,498.09 175.40,497.97 180.12,497.85 184.84,497.74 189.56,497.63 194.28,497.52 199.00,497.42 203.72,497.32 208.43,497.22 213.15,497.13 217.87,497.04 222.59,496.95 227.31,496.87 232.03,496.79 236.75,496.72 241.46,496.65 246.18,496.58 250.90,496.51 255.62,496.45 260.34,496.40 265.06,496.34 269.78,496.29 274.49,496.25 279.21,496.20 283.93,496.16 288.65,496.13 293.37,496.09 298.09,496.06 302.81,496.04 307.53,496.02 312.24,496.00 316.96,495.98 321.68,495.97 326.40,495.96" fill="none" stroke="#2014e2" stroke-width="1.9" stroke-dasharray="6.19 2.59"/>
<line x1="48.00" y1="482.83" x2="326.40" y2="486.59" stroke="#e82228" stroke-width="1.5"/>
<circle cx="48.00" cy="476.38" r="1.8" fill="#111"/>
<circle cx="50.78" cy="478.10" r="1.8" fill="#111"/>
<circle cx="53.57" cy="477.66" r="1.8" fill="#111"/>
<circle cx="56.35" cy="477.66" r="1.8" fill="#111"/>
<circle cx="59.14" cy="475.93" r="1.8" fill="#111"/>
<circle cx="61.92" cy="474.59" r="1.8" fill="#111"/>
<circle cx="64.70" cy="472.68" r="1.8" fill="#111"/>
<circle cx="67.49" cy="478.10" r="1.8" fill="#111"/>
<circle cx="70.27" cy="476.38" r="1.8" fill="#111"/>
<circle cx="73.06" cy="475.10" r="1.8" fill="#111"/>
<circle cx="75.84" cy="478.10" r="1.8" fill="#111"/>
<circle cx="78.62" cy="480.27" r="1.8" fill="#111"/>
<circle cx="81.41" cy="477.21" r="1.8" fill="#111"/>
<circle cx="84.19" cy="475.93" r="1.8" fill="#111"/>
<circle cx="86.98" cy="478.10" r="1.8" fill="#111"/>
<circle cx="89.76" cy="480.91" r="1.8" fill="#111"/>
<circle cx="92.54" cy="479.00" r="1.8" fill="#111"/>
<circle cx="95.33" cy="475.93" r="1.8" fill="#111"/>
<circle cx="98.11" cy="474.21" r="1.8" fill="#111"/>
<circle cx="100.90" cy="477.40" r="1.8" fill="#111"/>
<circle cx="103.68" cy="476.38" r="1.8" fill="#111"/>
<circle cx="106.46" cy="478.55" r="1.8" fill="#111"/>
<circle cx="109.25" cy="475.49" r="1.8" fill="#111"/>
<circle cx="112.03" cy="473.83" r="1.8" fill="#111"/>
<circle cx="114.82" cy="473.70" r="1.8" fill="#111"/>
<circle cx="117.60" cy="475.49" r="1.8" fill="#111"/>
<circle cx="120.38" cy="476.83" r="1.8" fill="#111"/>
<circle cx="123.17" cy="472.68" r="1.8" fill="#111"/>
<circle cx="125.95" cy="475.10" r="1.8" fill="#111"/>
<circle cx="128.74" cy="472.68" r="1.8" fill="#111"/>
<circle cx="131.52" cy="477.66" r="1.8" fill="#111"/>
<circle cx="134.30" cy="474.21" r="1.8" fill="#111"/>
<circle cx="137.09" cy="476.38" r="1.8" fill="#111"/>
<circle cx="139.87" cy="476.38" r="1.8" fill="#111"/>
<circle cx="142.66" cy="474.21" r="1.8" fill="#111"/>
<circle cx="145.44" cy="478.10" r="1.8" fill="#111"/>
<circle cx="148.22" cy="479.00" r="1.8" fill="#111"/>
<circle cx="151.01" cy="476.19" r="1.8" fill="#111"/>
<circle cx="153.79" cy="480.78" r="1.8" fill="#111"/>
<circle cx="156.58" cy="481.87" r="1.8" fill="#111"/>
<circle cx="159.36" cy="483.15" r="1.8" fill="#111"/>
<circle cx="162.14" cy="483.40" r="1.8" fill="#111"/>
<circle cx="164.93" cy="485.13" r="1.8" fill="#111"/>
<circle cx="167.71" cy="483.02" r="1.8" fill="#111"/>
<circle cx="170.50" cy="484.30" r="1.8" fill="#111"/>
<circle cx="173.28" cy="479.00" r="1.8" fill="#111"/>
<circle cx="176.06" cy="477.66" r="1.8" fill="#111"/>
<circle cx="178.85" cy="481.61" r="1.8" fill="#111"/>
<circle cx="181.63" cy="481.17" r="1.8" fill="#111"/>
<circle cx="184.42" cy="478.55" r="1.8" fill="#111"/>
<circle cx="187.20" cy="480.78" r="1.8" fill="#111"/>
<circle cx="189.98" cy="483.40" r="1.8" fill="#111"/>
<circle cx="192.77" cy="485.57" r="1.8" fill="#111"/>
<circle cx="195.55" cy="485.13" r="1.8" fill="#111"/>
<circle cx="198.34" cy="484.30" r="1.8" fill="#111"/>
<circle cx="201.12" cy="484.10" r="1.8" fill="#111"/>
<circle cx="203.90" cy="482.06" r="1.8" fill="#111"/>
<circle cx="206.69" cy="482.06" r="1.8" fill="#111"/>
<circle cx="209.47" cy="483.02" r="1.8" fill="#111"/>
<circle cx="212.26" cy="482.38" r="1.8" fill="#111"/>
<circle cx="215.04" cy="490.55" r="1.8" fill="#111"/>
<circle cx="217.82" cy="483.08" r="1.8" fill="#111"/>
<circle cx="220.61" cy="489.72" r="1.8" fill="#111"/>
<circle cx="223.39" cy="484.42" r="1.8" fill="#111"/>
<circle cx="226.18" cy="485.32" r="1.8" fill="#111"/>
<circle cx="228.96" cy="483.98" r="1.8" fill="#111"/>
<circle cx="231.74" cy="492.27" r="1.8" fill="#111"/>
<circle cx="234.53" cy="485.89" r="1.8" fill="#111"/>
<circle cx="237.31" cy="493.17" r="1.8" fill="#111"/>
<circle cx="240.10" cy="499.30" r="1.8" fill="#111"/>
<circle cx="242.88" cy="493.17" r="1.8" fill="#111"/>
<circle cx="245.66" cy="494.51" r="1.8" fill="#111"/>
<circle cx="248.45" cy="496.68" r="1.8" fill="#111"/>
<circle cx="251.23" cy="503.70" r="1.8" fill="#111"/>
<circle cx="254.02" cy="492.27" r="1.8" fill="#111"/>
<circle cx="256.80" cy="499.30" r="1.8" fill="#111"/>
<circle cx="259.58" cy="493.87" r="1.8" fill="#111"/>
<circle cx="262.37" cy="495.79" r="1.8" fill="#111"/>
<circle cx="265.15" cy="502.81" r="1.8" fill="#111"/>
<circle cx="267.94" cy="498.47" r="1.8" fill="#111"/>
<circle cx="270.72" cy="498.47" r="1.8" fill="#111"/>
<circle cx="273.50" cy="498.02" r="1.8" fill="#111"/>
<circle cx="276.29" cy="499.42" r="1.8" fill="#111"/>
<circle cx="279.07" cy="504.72" r="1.8" fill="#111"/>
<circle cx="281.86" cy="503.25" r="1.8" fill="#111"/>
<circle cx="284.64" cy="505.62" r="1.8" fill="#111"/>
<circle cx="287.42" cy="507.53" r="1.8" fill="#111"/>
<circle cx="290.21" cy="505.11" r="1.8" fill="#111"/>
<circle cx="292.99" cy="508.04" r="1.8" fill="#111"/>
<circle cx="295.78" cy="507.53" r="1.8" fill="#111"/>
<circle cx="298.56" cy="494.70" r="1.8" fill="#111"/>
<circle cx="301.34" cy="499.42" r="1.8" fill="#111"/>
<circle cx="304.13" cy="508.94" r="1.8" fill="#111"/>
<circle cx="306.91" cy="501.98" r="1.8" fill="#111"/>
<circle cx="309.70" cy="496.62" r="1.8" fill="#111"/>
<circle cx="312.48" cy="516.08" r="1.8" fill="#111"/>
<circle cx="315.26" cy="509.89" r="1.8" fill="#111"/>
<circle cx="318.05" cy="503.70" r="1.8" fill="#111"/>
<circle cx="320.83" cy="516.79" r="1.8" fill="#111"/>
<circle cx="323.62" cy="517.81" r="1.8" fill="#111"/>
</g>
<rect x="48.00" y="332.50" width="278.40" height="191.50" fill="none" stroke="#3a3a3a" stroke-width="1.0"/>
<line x1="44.80" y1="524.00" x2="48.00" y2="524.00" stroke="#3a3a3a" stroke-width="1.0" />
<text x="41.60" y="528.70" font-size="11.70" font-family='"Liberation Sans", sans-serif' text-anchor="end" fill="#000" textLength="6.09" lengthAdjust="spacingAndGlyphs" stroke="#000" stroke-width="0.3" >0</text>
<line x1="44.80" y1="492.08" x2="48.00" y2="492.08" stroke="#3a3a3a" stroke-width="1.0" />
<text x="41.60" y="496.78" font-size="11.70" font-family='"Liberation Sans", sans-serif' text-anchor="end" fill="#000" textLength="6.09" lengthAdjust="spacingAndGlyphs" stroke="#000" stroke-width="0.3" >5</text>
<line x1="44.80" y1="460.17" x2="48.00" y2="460.17" stroke="#3a3a3a" stroke-width="1.0" />
<text x="41.60" y="464.87" font-size="11.70" font-family='"Liberation Sans", sans-serif' text-anchor="end" fill="#000" textLength="11.48" lengthAdjust="spacingAndGlyphs" stroke="#000" stroke-width="0.3" >10</text>
<line x1="44.80" y1="428.25" x2="48.00" y2="428.25" stroke="#3a3a3a" stroke-width="1.0" />
<text x="41.60" y="432.95" font-size="11.70" font-family='"Liberation Sans", sans-serif' text-anchor="end" fill="#000" textLength="11.48" lengthAdjust="spacingAndGlyphs" stroke="#000" stroke-width="0.3" >15</text>
<line x1="44.80" y1="396.33" x2="48.00" y2="396.33" stroke="#3a3a3a" stroke-width="1.0" />
<text x="41.60" y="401.03" font-size="11.70" font-family='"Liberation Sans", sans-serif' text-anchor="end" fill="#000" textLength="11.48" lengthAdjust="spacingAndGlyphs" stroke="#000" stroke-width="0.3" >20</text>
<line x1="44.80" y1="364.42" x2="48.00" y2="364.42" stroke="#3a3a3a" stroke-width="1.0" />
<text x="41.60" y="369.12" font-size="11.70" font-family='"Liberation Sans", sans-serif' text-anchor="end" fill="#000" textLength="11.48" lengthAdjust="spacingAndGlyphs" stroke="#000" stroke-width="0.3" >25</text>
<line x1="44.80" y1="332.50" x2="48.00" y2="332.50" stroke="#3a3a3a" stroke-width="1.0" />
<text x="41.60" y="337.20" font-size="11.70" font-family='"Liberation Sans", sans-serif' text-anchor="end" fill="#000" textLength="11.48" lengthAdjust="spacingAndGlyphs" stroke="#000" stroke-width="0.3" >30</text>
<line x1="48.00" y1="524.00" x2="48.00" y2="527.20" stroke="#3a3a3a" stroke-width="1.0" />
<text x="48.00" y="539.90" font-size="11.70" font-family='"Liberation Sans", sans-serif' text-anchor="middle" fill="#000" textLength="6.09" lengthAdjust="spacingAndGlyphs" stroke="#000" stroke-width="0.3" >0</text>
<line x1="103.68" y1="524.00" x2="103.68" y2="527.20" stroke="#3a3a3a" stroke-width="1.0" />
<text x="103.68" y="539.90" font-size="11.70" font-family='"Liberation Sans", sans-serif' text-anchor="middle" fill="#000" textLength="10.78" lengthAdjust="spacingAndGlyphs" stroke="#000" stroke-width="0.3" >20</text>
<line x1="159.36" y1="524.00" x2="159.36" y2="527.20" stroke="#3a3a3a" stroke-width="1.0" />
<text x="159.36" y="539.90" font-size="11.70" font-family='"Liberation Sans", sans-serif' text-anchor="middle" fill="#000" textLength="10.78" lengthAdjust="spacingAndGlyphs" stroke="#000" stroke-width="0.3" >40</text>
<line x1="215.04" y1="524.00" x2="215.04" y2="527.20" stroke="#3a3a3a" stroke-width="1.0" />
<text x="215.04" y="539.90" font-size="11.70" font-family='"Liberation Sans", sans-serif' text-anchor="middle" fill="#000" textLength="10.78" lengthAdjust="spacingAndGlyphs" stroke="#000" stroke-width="0.3" >60</text>
<line x1="270.72" y1="524.00" x2="270.72" y2="527.20" stroke="#3a3a3a" stroke-width="1.0" />
<text x="270.72" y="539.90" font-size="11.70" font-family='"Liberation Sans", sans-serif' text-anchor="middle" fill="#000" textLength="10.78" lengthAdjust="spacingAndGlyphs" stroke="#000" stroke-width="0.3" >80</text>
<line x1="326.40" y1="524.00" x2="326.40" y2="527.20" stroke="#3a3a3a" stroke-width="1.0" />
<text x="326.40" y="539.90" font-size="11.70" font-family='"Liberation Sans", sans-serif' text-anchor="middle" fill="#000" textLength="18.16" lengthAdjust="spacingAndGlyphs" stroke="#000" stroke-width="0.3" >100</text>
<text x="187.20" y="327.60" font-size="15.50" font-family='"Liberation Serif", serif' text-anchor="middle" fill="#000" textLength="115.70" lengthAdjust="spacingAndGlyphs" stroke="#000" stroke-width="0.3" >Ship average speed</text>
<text x="187.20" y="555.40" font-size="15.00" font-family='"Liberation Serif", serif' text-anchor="middle" fill="#000" textLength="120.00" lengthAdjust="spacingAndGlyphs" stroke="#000" stroke-width="0.3" >Number of AIS data</text>
<g transform="translate(21.90,446.65) rotate(-90) scale(1.0,1)" font-family='"Liberation Serif", serif' font-style="italic" fill="#000" stroke="#000" stroke-width="0.25"><text x="-0.6" y="0" font-size="14.6" textLength="7.2" lengthAdjust="spacingAndGlyphs">v</text><line x1="8.2" y1="-11.3" x2="16.0" y2="-11.3" stroke="#000" stroke-width="1.0"/><text x="14.2" y="0" font-size="14.6" textLength="24.6" lengthAdjust="spacingAndGlyphs">(kn)</text></g>
<rect x="161.90" y="337.90" width="159.70" height="53.30" rx="2" ry="2" fill="#fff" fill-opacity="0.8" stroke="#d6d6d6" stroke-width="0.9"/>
<line x1="164.90" y1="347.10" x2="185.90" y2="347.10" stroke="#e82228" stroke-width="1.5"/>
<circle cx="175.40" cy="364.10" r="1.8" fill="#111"/>
<line x1="164.90" y1="380.40" x2="185.90" y2="380.40" stroke="#2014e2" stroke-width="1.9" stroke-dasharray="6.2 2.6"/>
<text x="193.00" y="351.55" font-size="10.90" font-family='"Liberation Sans", sans-serif' text-anchor="start" fill="#000" textLength="77.21" lengthAdjust="spacingAndGlyphs" stroke="#000" stroke-width="0.3" >Regression line</text>
<text x="193.00" y="368.55" font-size="10.90" font-family='"Liberation Sans", sans-serif' text-anchor="start" fill="#000" textLength="44.60" lengthAdjust="spacingAndGlyphs" stroke="#000" stroke-width="0.3" >AIS point</text>
<text x="193.00" y="384.85" font-size="10.90" font-family='"Liberation Sans", sans-serif' text-anchor="start" fill="#000" textLength="124.83" lengthAdjust="spacingAndGlyphs" stroke="#000" stroke-width="0.3" >Confidence limit (95.0%)</text>
<clipPath id="cbR"><rect x="392.5" y="332.5" width="278.0" height="191.5"/></clipPath>
<g clip-path="url(#cbR)">
<polyline points="392.50,409.36 397.21,409.61 401.92,409.87 406.64,410.12 411.35,410.37 416.06,410.61 420.77,410.86 425.48,411.09 430.19,411.33 434.91,411.56 439.62,411.78 444.33,412.01 449.04,412.23 453.75,412.44 458.47,412.65 463.18,412.86 467.89,413.07 472.60,413.27 477.31,413.47 482.03,413.66 486.74,413.85 491.45,414.04 496.16,414.22 500.87,414.40 505.58,414.58 510.30,414.75 515.01,414.92 519.72,415.09 524.43,415.25 529.14,415.41 533.86,415.56 538.57,415.71 543.28,415.86 547.99,416.00 552.70,416.14 557.42,416.28 562.13,416.41 566.84,416.54 571.55,416.67 576.26,416.79 580.97,416.91 585.69,417.02 590.40,417.14 595.11,417.24 599.82,417.35 604.53,417.45 609.25,417.55 613.96,417.64 618.67,417.73 623.38,417.82 628.09,417.90 632.81,417.98 637.52,418.05 642.23,418.13 646.94,418.20 651.65,418.26 656.36,418.32 661.08,418.38 665.79,418.43 670.50,418.48" fill="none" stroke="#2014e2" stroke-width="1.9" stroke-dasharray="6.18 2.59"/>
<polyline points="392.50,446.12 397.21,445.86 401.92,445.60 406.64,445.34 411.35,445.08 416.06,444.83 420.77,444.59 425.48,444.34 430.19,444.11 434.91,443.87 439.62,443.64 444.33,443.41 449.04,443.19 453.75,442.97 458.47,442.75 463.18,442.54 467.89,442.33 472.60,442.12 477.31,441.92 482.03,441.72 486.74,441.53 491.45,441.34 496.16,441.15 500.87,440.97 505.58,440.79 510.30,440.61 515.01,440.44 519.72,440.27 524.43,440.11 529.14,439.95 533.86,439.79 538.57,439.64 543.28,439.49 547.99,439.34 552.70,439.20 557.42,439.06 562.13,438.93 566.84,438.80 571.55,438.67 576.26,438.55 580.97,438.43 585.69,438.31 590.40,438.20 595.11,438.09 599.82,437.99 604.53,437.89 609.25,437.79 613.96,437.70 618.67,437.61 623.38,437.52 628.09,437.44 632.81,437.36 637.52,437.28 642.23,437.21 646.94,437.15 651.65,437.08 656.36,437.02 661.08,436.97 665.79,436.92 670.50,436.87" fill="none" stroke="#2014e2" stroke-width="1.9" stroke-dasharray="6.18 2.59"/>
<line x1="392.50" y1="427.87" x2="670.50" y2="427.87" stroke="#e82228" stroke-width="1.5"/>
<circle cx="392.50" cy="428.25" r="1.8" fill="#111"/>
<circle cx="395.28" cy="428.25" r="1.8" fill="#111"/>
<circle cx="398.06" cy="428.89" r="1.8" fill="#111"/>
<circle cx="400.84" cy="429.97" r="1.8" fill="#111"/>
<circle cx="403.62" cy="428.89" r="1.8" fill="#111"/>
<circle cx="406.40" cy="429.53" r="1.8" fill="#111"/>
<circle cx="409.18" cy="428.89" r="1.8" fill="#111"/>
<circle cx="411.96" cy="429.97" r="1.8" fill="#111"/>
<circle cx="414.74" cy="428.25" r="1.8" fill="#111"/>
<circle cx="417.52" cy="428.25" r="1.8" fill="#111"/>
<circle cx="420.30" cy="428.25" r="1.8" fill="#111"/>
<circle cx="423.08" cy="429.97" r="1.8" fill="#111"/>
<circle cx="425.86" cy="432.08" r="1.8" fill="#111"/>
<circle cx="428.64" cy="425.38" r="1.8" fill="#111"/>
<circle cx="431.42" cy="417.72" r="1.8" fill="#111"/>
<circle cx="434.20" cy="429.97" r="1.8" fill="#111"/>
<circle cx="436.98" cy="424.42" r="1.8" fill="#111"/>
<circle cx="439.76" cy="428.25" r="1.8" fill="#111"/>
<circle cx="442.54" cy="428.89" r="1.8" fill="#111"/>
<circle cx="445.32" cy="428.25" r="1.8" fill="#111"/>
<circle cx="448.10" cy="428.89" r="1.8" fill="#111"/>
<circle cx="450.88" cy="429.97" r="1.8" fill="#111"/>
<circle cx="453.66" cy="429.53" r="1.8" fill="#111"/>
<circle cx="456.44" cy="430.17" r="1.8" fill="#111"/>
<circle cx="459.22" cy="430.23" r="1.8" fill="#111"/>
<circle cx="462.00" cy="430.23" r="1.8" fill="#111"/>
<circle cx="464.78" cy="427.29" r="1.8" fill="#111"/>
<circle cx="467.56" cy="428.89" r="1.8" fill="#111"/>
<circle cx="470.34" cy="428.89" r="1.8" fill="#111"/>
<circle cx="473.12" cy="428.89" r="1.8" fill="#111"/>
<circle cx="475.90" cy="429.08" r="1.8" fill="#111"/>
<circle cx="478.68" cy="427.29" r="1.8" fill="#111"/>
<circle cx="481.46" cy="428.25" r="1.8" fill="#111"/>
<circle cx="484.24" cy="428.89" r="1.8" fill="#111"/>
<circle cx="487.02" cy="429.27" r="1.8" fill="#111"/>
<circle cx="489.80" cy="429.65" r="1.8" fill="#111"/>
<circle cx="492.58" cy="426.72" r="1.8" fill="#111"/>
<circle cx="495.36" cy="427.29" r="1.8" fill="#111"/>
<circle cx="498.14" cy="430.23" r="1.8" fill="#111"/>
<circle cx="500.92" cy="427.93" r="1.8" fill="#111"/>
<circle cx="503.70" cy="426.72" r="1.8" fill="#111"/>
<circle cx="506.48" cy="425.31" r="1.8" fill="#111"/>
<circle cx="509.26" cy="426.72" r="1.8" fill="#111"/>
<circle cx="512.04" cy="430.23" r="1.8" fill="#111"/>
<circle cx="514.82" cy="427.93" r="1.8" fill="#111"/>
<circle cx="517.60" cy="428.51" r="1.8" fill="#111"/>
<circle cx="520.38" cy="426.72" r="1.8" fill="#111"/>
<circle cx="523.16" cy="428.89" r="1.8" fill="#111"/>
<circle cx="525.94" cy="430.23" r="1.8" fill="#111"/>
<circle cx="528.72" cy="426.72" r="1.8" fill="#111"/>
<circle cx="531.50" cy="430.48" r="1.8" fill="#111"/>
<circle cx="534.28" cy="428.25" r="1.8" fill="#111"/>
<circle cx="537.06" cy="427.80" r="1.8" fill="#111"/>
<circle cx="539.84" cy="426.59" r="1.8" fill="#111"/>
<circle cx="542.62" cy="427.29" r="1.8" fill="#111"/>
<circle cx="545.40" cy="429.27" r="1.8" fill="#111"/>
<circle cx="548.18" cy="428.51" r="1.8" fill="#111"/>
<circle cx="550.96" cy="429.91" r="1.8" fill="#111"/>
<circle cx="553.74" cy="427.80" r="1.8" fill="#111"/>
<circle cx="556.52" cy="426.97" r="1.8" fill="#111"/>
<circle cx="559.30" cy="427.80" r="1.8" fill="#111"/>
<circle cx="562.08" cy="426.97" r="1.8" fill="#111"/>
<circle cx="564.86" cy="429.27" r="1.8" fill="#111"/>
<circle cx="567.64" cy="426.97" r="1.8" fill="#111"/>
<circle cx="570.42" cy="430.48" r="1.8" fill="#111"/>
<circle cx="573.20" cy="426.97" r="1.8" fill="#111"/>
<circle cx="575.98" cy="429.91" r="1.8" fill="#111"/>
<circle cx="578.76" cy="431.06" r="1.8" fill="#111"/>
<circle cx="581.54" cy="427.55" r="1.8" fill="#111"/>
<circle cx="584.32" cy="424.61" r="1.8" fill="#111"/>
<circle cx="587.10" cy="426.40" r="1.8" fill="#111"/>
<circle cx="589.88" cy="428.25" r="1.8" fill="#111"/>
<circle cx="592.66" cy="421.10" r="1.8" fill="#111"/>
<circle cx="595.44" cy="421.74" r="1.8" fill="#111"/>
<circle cx="598.22" cy="421.10" r="1.8" fill="#111"/>
<circle cx="601.00" cy="435.14" r="1.8" fill="#111"/>
<circle cx="603.78" cy="427.36" r="1.8" fill="#111"/>
<circle cx="606.56" cy="431.44" r="1.8" fill="#111"/>
<circle cx="609.34" cy="429.78" r="1.8" fill="#111"/>
<circle cx="612.12" cy="428.25" r="1.8" fill="#111"/>
<circle cx="614.90" cy="427.04" r="1.8" fill="#111"/>
<circle cx="617.68" cy="429.21" r="1.8" fill="#111"/>
<circle cx="620.46" cy="430.36" r="1.8" fill="#111"/>
<circle cx="623.24" cy="427.04" r="1.8" fill="#111"/>
<circle cx="626.02" cy="427.61" r="1.8" fill="#111"/>
<circle cx="628.80" cy="427.80" r="1.8" fill="#111"/>
<circle cx="631.58" cy="428.25" r="1.8" fill="#111"/>
<circle cx="634.36" cy="427.80" r="1.8" fill="#111"/>
<circle cx="637.14" cy="428.70" r="1.8" fill="#111"/>
<circle cx="639.92" cy="427.36" r="1.8" fill="#111"/>
<circle cx="642.70" cy="429.78" r="1.8" fill="#111"/>
<circle cx="645.48" cy="429.78" r="1.8" fill="#111"/>
<circle cx="648.26" cy="428.70" r="1.8" fill="#111"/>
<circle cx="651.04" cy="428.25" r="1.8" fill="#111"/>
<circle cx="653.82" cy="425.95" r="1.8" fill="#111"/>
<circle cx="656.60" cy="430.68" r="1.8" fill="#111"/>
<circle cx="659.38" cy="428.25" r="1.8" fill="#111"/>
<circle cx="662.16" cy="428.25" r="1.8" fill="#111"/>
<circle cx="664.94" cy="428.70" r="1.8" fill="#111"/>
<circle cx="667.72" cy="429.21" r="1.8" fill="#111"/>
<circle cx="670.50" cy="428.25" r="1.8" fill="#111"/>
</g>
<rect x="392.50" y="332.50" width="278.00" height="191.50" fill="none" stroke="#3a3a3a" stroke-width="1.0"/>
<line x1="389.30" y1="524.00" x2="392.50" y2="524.00" stroke="#3a3a3a" stroke-width="1.0" />
<text x="385.60" y="528.70" font-size="11.70" font-family='"Liberation Sans", sans-serif' text-anchor="end" fill="#000" textLength="19.76" lengthAdjust="spacingAndGlyphs" stroke="#000" stroke-width="0.3" >−15</text>
<line x1="389.30" y1="492.08" x2="392.50" y2="492.08" stroke="#3a3a3a" stroke-width="1.0" />
<text x="385.60" y="496.78" font-size="11.70" font-family='"Liberation Sans", sans-serif' text-anchor="end" fill="#000" textLength="19.76" lengthAdjust="spacingAndGlyphs" stroke="#000" stroke-width="0.3" >−10</text>
<line x1="389.30" y1="460.17" x2="392.50" y2="460.17" stroke="#3a3a3a" stroke-width="1.0" />
<text x="385.60" y="464.87" font-size="11.70" font-family='"Liberation Sans", sans-serif' text-anchor="end" fill="#000" textLength="14.38" lengthAdjust="spacingAndGlyphs" stroke="#000" stroke-width="0.3" >−5</text>
<line x1="389.30" y1="428.25" x2="392.50" y2="428.25" stroke="#3a3a3a" stroke-width="1.0" />
<text x="385.60" y="432.95" font-size="11.70" font-family='"Liberation Sans", sans-serif' text-anchor="end" fill="#000" textLength="6.08" lengthAdjust="spacingAndGlyphs" stroke="#000" stroke-width="0.3" >0</text>
<line x1="389.30" y1="396.33" x2="392.50" y2="396.33" stroke="#3a3a3a" stroke-width="1.0" />
<text x="385.60" y="401.03" font-size="11.70" font-family='"Liberation Sans", sans-serif' text-anchor="end" fill="#000" textLength="6.08" lengthAdjust="spacingAndGlyphs" stroke="#000" stroke-width="0.3" >5</text>
<line x1="389.30" y1="364.42" x2="392.50" y2="364.42" stroke="#3a3a3a" stroke-width="1.0" />
<text x="385.60" y="369.12" font-size="11.70" font-family='"Liberation Sans", sans-serif' text-anchor="end" fill="#000" textLength="11.46" lengthAdjust="spacingAndGlyphs" stroke="#000" stroke-width="0.3" >10</text>
<line x1="389.30" y1="332.50" x2="392.50" y2="332.50" stroke="#3a3a3a" stroke-width="1.0" />
<text x="385.60" y="337.20" font-size="11.70" font-family='"Liberation Sans", sans-serif' text-anchor="end" fill="#000" textLength="11.46" lengthAdjust="spacingAndGlyphs" stroke="#000" stroke-width="0.3" >15</text>
<line x1="392.50" y1="524.00" x2="392.50" y2="527.20" stroke="#3a3a3a" stroke-width="1.0" />
<text x="392.50" y="539.90" font-size="11.70" font-family='"Liberation Sans", sans-serif' text-anchor="middle" fill="#000" textLength="6.08" lengthAdjust="spacingAndGlyphs" stroke="#000" stroke-width="0.3" >0</text>
<line x1="448.10" y1="524.00" x2="448.10" y2="527.20" stroke="#3a3a3a" stroke-width="1.0" />
<text x="448.10" y="539.90" font-size="11.70" font-family='"Liberation Sans", sans-serif' text-anchor="middle" fill="#000" textLength="10.76" lengthAdjust="spacingAndGlyphs" stroke="#000" stroke-width="0.3" >20</text>
<line x1="503.70" y1="524.00" x2="503.70" y2="527.20" stroke="#3a3a3a" stroke-width="1.0" />
<text x="503.70" y="539.90" font-size="11.70" font-family='"Liberation Sans", sans-serif' text-anchor="middle" fill="#000" textLength="10.76" lengthAdjust="spacingAndGlyphs" stroke="#000" stroke-width="0.3" >40</text>
<line x1="559.30" y1="524.00" x2="559.30" y2="527.20" stroke="#3a3a3a" stroke-width="1.0" />
<text x="559.30" y="539.90" font-size="11.70" font-family='"Liberation Sans", sans-serif' text-anchor="middle" fill="#000" textLength="10.76" lengthAdjust="spacingAndGlyphs" stroke="#000" stroke-width="0.3" >60</text>
<line x1="614.90" y1="524.00" x2="614.90" y2="527.20" stroke="#3a3a3a" stroke-width="1.0" />
<text x="614.90" y="539.90" font-size="11.70" font-family='"Liberation Sans", sans-serif' text-anchor="middle" fill="#000" textLength="10.76" lengthAdjust="spacingAndGlyphs" stroke="#000" stroke-width="0.3" >80</text>
<line x1="670.50" y1="524.00" x2="670.50" y2="527.20" stroke="#3a3a3a" stroke-width="1.0" />
<text x="670.50" y="539.90" font-size="11.70" font-family='"Liberation Sans", sans-serif' text-anchor="middle" fill="#000" textLength="18.13" lengthAdjust="spacingAndGlyphs" stroke="#000" stroke-width="0.3" >100</text>
<text x="531.50" y="327.60" font-size="15.50" font-family='"Liberation Serif", serif' text-anchor="middle" fill="#000" textLength="116.90" lengthAdjust="spacingAndGlyphs" stroke="#000" stroke-width="0.3" >Ship course change</text>
<text x="531.50" y="555.40" font-size="15.00" font-family='"Liberation Serif", serif' text-anchor="middle" fill="#000" textLength="120.00" lengthAdjust="spacingAndGlyphs" stroke="#000" stroke-width="0.3" >Number of AIS data</text>
<g transform="translate(357.80,446.15) rotate(-90) scale(1.0,1)" font-family='"Liberation Serif", serif' fill="#000" stroke="#000" stroke-width="0.25"><text x="-0.2" y="0" font-size="14.2" textLength="9.2" lengthAdjust="spacingAndGlyphs">Δ</text><text x="10.9" y="0" font-size="12.4" font-style="italic" textLength="8.8" lengthAdjust="spacingAndGlyphs">ψ</text><text x="20.0" y="0" font-size="14.2" font-style="italic" textLength="4.9" lengthAdjust="spacingAndGlyphs">(</text><text x="25.6" y="-1.2" font-size="14.5" textLength="5.2" lengthAdjust="spacingAndGlyphs">°</text><text x="31.2" y="0" font-size="14.2" font-style="italic" textLength="4.9" lengthAdjust="spacingAndGlyphs">)</text></g>
<rect x="506.40" y="337.90" width="159.20" height="53.30" rx="2" ry="2" fill="#fff" fill-opacity="0.8" stroke="#d6d6d6" stroke-width="0.9"/>
<line x1="509.50" y1="347.10" x2="530.10" y2="347.10" stroke="#e82228" stroke-width="1.5"/>
<circle cx="519.80" cy="364.10" r="1.8" fill="#111"/>
<line x1="509.50" y1="380.40" x2="530.10" y2="380.40" stroke="#2014e2" stroke-width="1.9" stroke-dasharray="6.2 2.6"/>
<text x="537.20" y="351.55" font-size="10.90" font-family='"Liberation Sans", sans-serif' text-anchor="start" fill="#000" textLength="77.00" lengthAdjust="spacingAndGlyphs" stroke="#000" stroke-width="0.3" >Regression line</text>
<text x="537.20" y="368.55" font-size="10.90" font-family='"Liberation Sans", sans-serif' text-anchor="start" fill="#000" textLength="44.60" lengthAdjust="spacingAndGlyphs" stroke="#000" stroke-width="0.3" >AIS point</text>
<text x="537.20" y="384.85" font-size="10.90" font-family='"Liberation Sans", sans-serif' text-anchor="start" fill="#000" textLength="124.83" lengthAdjust="spacingAndGlyphs" stroke="#000" stroke-width="0.3" >Confidence limit (95.0%)</text>
<clipPath id="ccL"><rect x="52.5" y="615.6" width="273.9" height="189.79999999999995"/></clipPath>
<g clip-path="url(#ccL)">
<polyline points="52.50,728.02 57.14,728.55 61.78,729.08 66.43,729.59 71.07,730.11 75.71,730.61 80.35,731.11 85.00,731.61 89.64,732.10 94.28,732.59 98.92,733.07 103.57,733.54 108.21,734.01 112.85,734.48 117.49,734.94 122.14,735.39 126.78,735.84 131.42,736.28 136.06,736.72 140.71,737.15 145.35,737.58 149.99,738.00 154.63,738.42 159.27,738.83 163.92,739.24 168.56,739.64 173.20,740.03 177.84,740.42 182.49,740.81 187.13,741.19 191.77,741.56 196.41,741.93 201.06,742.29 205.70,742.65 210.34,743.00 214.98,743.35 219.63,743.69 224.27,744.03 228.91,744.36 233.55,744.69 238.19,745.01 242.84,745.33 247.48,745.64 252.12,745.94 256.76,746.24 261.41,746.54 266.05,746.83 270.69,747.11 275.33,747.39 279.98,747.66 284.62,747.93 289.26,748.19 293.90,748.45 298.55,748.70 303.19,748.95 307.83,749.19 312.47,749.43 317.12,749.66 321.76,749.88 326.40,750.10" fill="none" stroke="#2014e2" stroke-width="1.9" stroke-dasharray="6.09 2.55"/>
<polyline points="52.50,776.06 57.14,775.83 61.78,775.60 66.43,775.38 71.07,775.17 75.71,774.97 80.35,774.77 85.00,774.58 89.64,774.40 94.28,774.22 98.92,774.05 103.57,773.89 108.21,773.74 112.85,773.59 117.49,773.45 122.14,773.31 126.78,773.19 131.42,773.07 136.06,772.95 140.71,772.85 145.35,772.75 149.99,772.66 154.63,772.57 159.27,772.49 163.92,772.42 168.56,772.36 173.20,772.30 177.84,772.25 182.49,772.21 187.13,772.17 191.77,772.14 196.41,772.12 201.06,772.11 205.70,772.10 210.34,772.10 214.98,772.11 219.63,772.12 224.27,772.14 228.91,772.17 233.55,772.20 238.19,772.24 242.84,772.29 247.48,772.34 252.12,772.41 256.76,772.48 261.41,772.55 266.05,772.64 270.69,772.73 275.33,772.82 279.98,772.93 284.62,773.04 289.26,773.16 293.90,773.28 298.55,773.41 303.19,773.55 307.83,773.70 312.47,773.85 317.12,774.01 321.76,774.18 326.40,774.35" fill="none" stroke="#2014e2" stroke-width="1.9" stroke-dasharray="6.09 2.55"/>
<line x1="52.50" y1="751.81" x2="326.40" y2="762.32" stroke="#e82228" stroke-width="1.5"/>
<circle cx="52.50" cy="758.58" r="1.8" fill="#111"/>
<circle cx="55.24" cy="758.39" r="1.8" fill="#111"/>
<circle cx="57.98" cy="756.18" r="1.8" fill="#111"/>
<circle cx="60.72" cy="759.72" r="1.8" fill="#111"/>
<circle cx="63.46" cy="758.01" r="1.8" fill="#111"/>
<circle cx="66.19" cy="760.61" r="1.8" fill="#111"/>
<circle cx="68.93" cy="760.61" r="1.8" fill="#111"/>
<circle cx="71.67" cy="759.41" r="1.8" fill="#111"/>
<circle cx="74.41" cy="759.41" r="1.8" fill="#111"/>
<circle cx="77.15" cy="756.18" r="1.8" fill="#111"/>
<circle cx="79.89" cy="754.03" r="1.8" fill="#111"/>
<circle cx="82.63" cy="756.62" r="1.8" fill="#111"/>
<circle cx="85.37" cy="754.41" r="1.8" fill="#111"/>
<circle cx="88.11" cy="757.51" r="1.8" fill="#111"/>
<circle cx="90.85" cy="759.97" r="1.8" fill="#111"/>
<circle cx="93.59" cy="760.61" r="1.8" fill="#111"/>
<circle cx="96.32" cy="762.32" r="1.8" fill="#111"/>
<circle cx="99.06" cy="759.22" r="1.8" fill="#111"/>
<circle cx="101.80" cy="758.39" r="1.8" fill="#111"/>
<circle cx="104.54" cy="760.61" r="1.8" fill="#111"/>
<circle cx="107.28" cy="759.72" r="1.8" fill="#111"/>
<circle cx="110.02" cy="758.77" r="1.8" fill="#111"/>
<circle cx="112.76" cy="757.51" r="1.8" fill="#111"/>
<circle cx="115.50" cy="754.91" r="1.8" fill="#111"/>
<circle cx="118.24" cy="751.62" r="1.8" fill="#111"/>
<circle cx="120.97" cy="745.49" r="1.8" fill="#111"/>
<circle cx="123.71" cy="693.10" r="1.8" fill="#111"/>
<circle cx="126.45" cy="628.89" r="1.8" fill="#111"/>
<circle cx="129.19" cy="666.21" r="1.8" fill="#111"/>
<circle cx="131.93" cy="747.19" r="1.8" fill="#111"/>
<circle cx="134.67" cy="751.62" r="1.8" fill="#111"/>
<circle cx="137.41" cy="755.10" r="1.8" fill="#111"/>
<circle cx="140.15" cy="756.18" r="1.8" fill="#111"/>
<circle cx="142.89" cy="756.18" r="1.8" fill="#111"/>
<circle cx="145.63" cy="757.06" r="1.8" fill="#111"/>
<circle cx="148.37" cy="761.43" r="1.8" fill="#111"/>
<circle cx="151.10" cy="758.39" r="1.8" fill="#111"/>
<circle cx="153.84" cy="760.10" r="1.8" fill="#111"/>
<circle cx="156.58" cy="761.87" r="1.8" fill="#111"/>
<circle cx="159.32" cy="764.78" r="1.8" fill="#111"/>
<circle cx="162.06" cy="761.87" r="1.8" fill="#111"/>
<circle cx="164.80" cy="763.64" r="1.8" fill="#111"/>
<circle cx="167.54" cy="762.88" r="1.8" fill="#111"/>
<circle cx="170.28" cy="764.97" r="1.8" fill="#111"/>
<circle cx="173.02" cy="762.32" r="1.8" fill="#111"/>
<circle cx="175.75" cy="760.10" r="1.8" fill="#111"/>
<circle cx="178.49" cy="757.51" r="1.8" fill="#111"/>
<circle cx="181.23" cy="762.32" r="1.8" fill="#111"/>
<circle cx="183.97" cy="761.49" r="1.8" fill="#111"/>
<circle cx="186.71" cy="758.39" r="1.8" fill="#111"/>
<circle cx="189.45" cy="760.61" r="1.8" fill="#111"/>
<circle cx="192.19" cy="760.10" r="1.8" fill="#111"/>
<circle cx="194.93" cy="759.72" r="1.8" fill="#111"/>
<circle cx="197.67" cy="757.51" r="1.8" fill="#111"/>
<circle cx="200.41" cy="756.62" r="1.8" fill="#111"/>
<circle cx="203.14" cy="759.72" r="1.8" fill="#111"/>
<circle cx="205.88" cy="761.49" r="1.8" fill="#111"/>
<circle cx="208.62" cy="755.80" r="1.8" fill="#111"/>
<circle cx="211.36" cy="755.99" r="1.8" fill="#111"/>
<circle cx="214.10" cy="757.06" r="1.8" fill="#111"/>
<circle cx="216.84" cy="754.79" r="1.8" fill="#111"/>
<circle cx="219.58" cy="761.11" r="1.8" fill="#111"/>
<circle cx="222.32" cy="763.52" r="1.8" fill="#111"/>
<circle cx="225.06" cy="760.99" r="1.8" fill="#111"/>
<circle cx="227.80" cy="758.39" r="1.8" fill="#111"/>
<circle cx="230.53" cy="756.49" r="1.8" fill="#111"/>
<circle cx="233.27" cy="759.72" r="1.8" fill="#111"/>
<circle cx="236.01" cy="758.39" r="1.8" fill="#111"/>
<circle cx="238.75" cy="760.61" r="1.8" fill="#111"/>
<circle cx="241.49" cy="758.01" r="1.8" fill="#111"/>
<circle cx="244.23" cy="755.80" r="1.8" fill="#111"/>
<circle cx="246.97" cy="756.62" r="1.8" fill="#111"/>
<circle cx="249.71" cy="754.72" r="1.8" fill="#111"/>
<circle cx="252.45" cy="759.72" r="1.8" fill="#111"/>
<circle cx="255.19" cy="756.49" r="1.8" fill="#111"/>
<circle cx="257.93" cy="758.77" r="1.8" fill="#111"/>
<circle cx="260.66" cy="758.77" r="1.8" fill="#111"/>
<circle cx="263.40" cy="757.51" r="1.8" fill="#111"/>
<circle cx="266.14" cy="755.80" r="1.8" fill="#111"/>
<circle cx="268.88" cy="755.80" r="1.8" fill="#111"/>
<circle cx="271.62" cy="756.37" r="1.8" fill="#111"/>
<circle cx="274.36" cy="754.41" r="1.8" fill="#111"/>
<circle cx="277.10" cy="754.41" r="1.8" fill="#111"/>
<circle cx="279.84" cy="755.80" r="1.8" fill="#111"/>
<circle cx="282.58" cy="756.18" r="1.8" fill="#111"/>
<circle cx="285.31" cy="756.18" r="1.8" fill="#111"/>
<circle cx="288.05" cy="756.62" r="1.8" fill="#111"/>
<circle cx="290.79" cy="757.51" r="1.8" fill="#111"/>
<circle cx="293.53" cy="755.99" r="1.8" fill="#111"/>
<circle cx="296.27" cy="755.99" r="1.8" fill="#111"/>
<circle cx="299.01" cy="766.30" r="1.8" fill="#111"/>
<circle cx="301.75" cy="760.99" r="1.8" fill="#111"/>
<circle cx="304.49" cy="760.10" r="1.8" fill="#111"/>
<circle cx="307.23" cy="763.64" r="1.8" fill="#111"/>
<circle cx="309.97" cy="763.64" r="1.8" fill="#111"/>
<circle cx="312.70" cy="760.99" r="1.8" fill="#111"/>
<circle cx="315.44" cy="762.82" r="1.8" fill="#111"/>
<circle cx="318.18" cy="765.61" r="1.8" fill="#111"/>
<circle cx="320.92" cy="760.99" r="1.8" fill="#111"/>
<circle cx="323.66" cy="761.87" r="1.8" fill="#111"/>
</g>
<rect x="52.50" y="615.60" width="273.90" height="189.80" fill="none" stroke="#3a3a3a" stroke-width="1.0"/>
<line x1="49.30" y1="805.40" x2="52.50" y2="805.40" stroke="#3a3a3a" stroke-width="1.0" />
<text x="46.10" y="810.10" font-size="11.70" font-family='"Liberation Sans", sans-serif' text-anchor="end" fill="#000" textLength="5.99" lengthAdjust="spacingAndGlyphs" stroke="#000" stroke-width="0.3" >0</text>
<line x1="49.30" y1="773.77" x2="52.50" y2="773.77" stroke="#3a3a3a" stroke-width="1.0" />
<text x="46.10" y="778.47" font-size="11.70" font-family='"Liberation Sans", sans-serif' text-anchor="end" fill="#000" textLength="5.99" lengthAdjust="spacingAndGlyphs" stroke="#000" stroke-width="0.3" >5</text>
<line x1="49.30" y1="742.13" x2="52.50" y2="742.13" stroke="#3a3a3a" stroke-width="1.0" />
<text x="46.10" y="746.83" font-size="11.70" font-family='"Liberation Sans", sans-serif' text-anchor="end" fill="#000" textLength="11.29" lengthAdjust="spacingAndGlyphs" stroke="#000" stroke-width="0.3" >10</text>
<line x1="49.30" y1="710.50" x2="52.50" y2="710.50" stroke="#3a3a3a" stroke-width="1.0" />
<text x="46.10" y="715.20" font-size="11.70" font-family='"Liberation Sans", sans-serif' text-anchor="end" fill="#000" textLength="11.29" lengthAdjust="spacingAndGlyphs" stroke="#000" stroke-width="0.3" >15</text>
<line x1="49.30" y1="678.87" x2="52.50" y2="678.87" stroke="#3a3a3a" stroke-width="1.0" />
<text x="46.10" y="683.57" font-size="11.70" font-family='"Liberation Sans", sans-serif' text-anchor="end" fill="#000" textLength="11.29" lengthAdjust="spacingAndGlyphs" stroke="#000" stroke-width="0.3" >20</text>
<line x1="49.30" y1="647.23" x2="52.50" y2="647.23" stroke="#3a3a3a" stroke-width="1.0" />
<text x="46.10" y="651.93" font-size="11.70" font-family='"Liberation Sans", sans-serif' text-anchor="end" fill="#000" textLength="11.29" lengthAdjust="spacingAndGlyphs" stroke="#000" stroke-width="0.3" >25</text>
<line x1="49.30" y1="615.60" x2="52.50" y2="615.60" stroke="#3a3a3a" stroke-width="1.0" />
<text x="46.10" y="620.30" font-size="11.70" font-family='"Liberation Sans", sans-serif' text-anchor="end" fill="#000" textLength="11.29" lengthAdjust="spacingAndGlyphs" stroke="#000" stroke-width="0.3" >30</text>
<line x1="52.50" y1="805.40" x2="52.50" y2="808.60" stroke="#3a3a3a" stroke-width="1.0" />
<text x="52.50" y="821.30" font-size="11.70" font-family='"Liberation Sans", sans-serif' text-anchor="middle" fill="#000" textLength="5.99" lengthAdjust="spacingAndGlyphs" stroke="#000" stroke-width="0.3" >0</text>
<line x1="107.28" y1="805.40" x2="107.28" y2="808.60" stroke="#3a3a3a" stroke-width="1.0" />
<text x="107.28" y="821.30" font-size="11.70" font-family='"Liberation Sans", sans-serif' text-anchor="middle" fill="#000" textLength="10.60" lengthAdjust="spacingAndGlyphs" stroke="#000" stroke-width="0.3" >20</text>
<line x1="162.06" y1="805.40" x2="162.06" y2="808.60" stroke="#3a3a3a" stroke-width="1.0" />
<text x="162.06" y="821.30" font-size="11.70" font-family='"Liberation Sans", sans-serif' text-anchor="middle" fill="#000" textLength="10.60" lengthAdjust="spacingAndGlyphs" stroke="#000" stroke-width="0.3" >40</text>
<line x1="216.84" y1="805.40" x2="216.84" y2="808.60" stroke="#3a3a3a" stroke-width="1.0" />
<text x="216.84" y="821.30" font-size="11.70" font-family='"Liberation Sans", sans-serif' text-anchor="middle" fill="#000" textLength="10.60" lengthAdjust="spacingAndGlyphs" stroke="#000" stroke-width="0.3" >60</text>
<line x1="271.62" y1="805.40" x2="271.62" y2="808.60" stroke="#3a3a3a" stroke-width="1.0" />
<text x="271.62" y="821.30" font-size="11.70" font-family='"Liberation Sans", sans-serif' text-anchor="middle" fill="#000" textLength="10.60" lengthAdjust="spacingAndGlyphs" stroke="#000" stroke-width="0.3" >80</text>
<line x1="326.40" y1="805.40" x2="326.40" y2="808.60" stroke="#3a3a3a" stroke-width="1.0" />
<text x="326.40" y="821.30" font-size="11.70" font-family='"Liberation Sans", sans-serif' text-anchor="middle" fill="#000" textLength="17.87" lengthAdjust="spacingAndGlyphs" stroke="#000" stroke-width="0.3" >100</text>
<text x="189.45" y="610.80" font-size="15.50" font-family='"Liberation Serif", serif' text-anchor="middle" fill="#000" textLength="114.00" lengthAdjust="spacingAndGlyphs" stroke="#000" stroke-width="0.3" >Ship average speed</text>
<text x="189.45" y="837.40" font-size="15.20" font-family='"Liberation Serif", serif' text-anchor="middle" fill="#000" textLength="118.90" lengthAdjust="spacingAndGlyphs" stroke="#000" stroke-width="0.3" >Number of AIS data</text>
<g transform="translate(26.60,728.90) rotate(-90) scale(1.0,1)" font-family='"Liberation Serif", serif' font-style="italic" fill="#000" stroke="#000" stroke-width="0.25"><text x="-0.6" y="0" font-size="14.6" textLength="7.2" lengthAdjust="spacingAndGlyphs">v</text><line x1="8.2" y1="-11.3" x2="16.0" y2="-11.3" stroke="#000" stroke-width="1.0"/><text x="14.2" y="0" font-size="14.6" textLength="24.6" lengthAdjust="spacingAndGlyphs">(kn)</text></g>
<rect x="164.70" y="620.60" width="156.90" height="53.70" rx="2" ry="2" fill="#fff" fill-opacity="0.8" stroke="#d6d6d6" stroke-width="0.9"/>
<line x1="167.80" y1="630.30" x2="188.20" y2="630.30" stroke="#e82228" stroke-width="1.5"/>
<circle cx="178.00" cy="647.40" r="1.8" fill="#111"/>
<line x1="167.80" y1="663.50" x2="188.20" y2="663.50" stroke="#2014e2" stroke-width="1.9" stroke-dasharray="6.2 2.6"/>
<text x="194.80" y="634.75" font-size="10.90" font-family='"Liberation Sans", sans-serif' text-anchor="start" fill="#000" textLength="76.49" lengthAdjust="spacingAndGlyphs" stroke="#000" stroke-width="0.3" >Regression line</text>
<text x="194.80" y="651.85" font-size="10.90" font-family='"Liberation Sans", sans-serif' text-anchor="start" fill="#000" textLength="43.80" lengthAdjust="spacingAndGlyphs" stroke="#000" stroke-width="0.3" >AIS point</text>
<text x="194.80" y="667.95" font-size="10.90" font-family='"Liberation Sans", sans-serif' text-anchor="start" fill="#000" textLength="123.42" lengthAdjust="spacingAndGlyphs" stroke="#000" stroke-width="0.3" >Confidence limit (95.0%)</text>
<clipPath id="ccR"><rect x="391.5" y="615.6" width="274.0" height="189.79999999999995"/></clipPath>
<g clip-path="url(#ccR)">
<polyline points="391.50,694.24 396.14,694.47 400.79,694.69 405.43,694.91 410.08,695.13 414.72,695.34 419.36,695.55 424.01,695.76 428.65,695.97 433.30,696.17 437.94,696.37 442.58,696.56 447.23,696.76 451.87,696.95 456.52,697.13 461.16,697.31 465.81,697.49 470.45,697.67 475.09,697.85 479.74,698.02 484.38,698.18 489.03,698.35 493.67,698.51 498.31,698.67 502.96,698.82 507.60,698.97 512.25,699.12 516.89,699.27 521.53,699.41 526.18,699.55 530.82,699.69 535.47,699.82 540.11,699.95 544.75,700.08 549.40,700.20 554.04,700.32 558.69,700.44 563.33,700.55 567.97,700.66 572.62,700.77 577.26,700.88 581.91,700.98 586.55,701.08 591.19,701.17 595.84,701.26 600.48,701.35 605.13,701.44 609.77,701.52 614.42,701.60 619.06,701.68 623.70,701.75 628.35,701.82 632.99,701.89 637.64,701.96 642.28,702.02 646.92,702.07 651.57,702.13 656.21,702.18 660.86,702.23 665.50,702.28" fill="none" stroke="#2014e2" stroke-width="1.9" stroke-dasharray="6.09 2.55"/>
<polyline points="391.50,725.56 396.14,725.33 400.79,725.11 405.43,724.89 410.08,724.68 414.72,724.47 419.36,724.26 424.01,724.05 428.65,723.85 433.30,723.65 437.94,723.46 442.58,723.27 447.23,723.08 451.87,722.89 456.52,722.71 461.16,722.53 465.81,722.36 470.45,722.18 475.09,722.01 479.74,721.85 484.38,721.69 489.03,721.53 493.67,721.37 498.31,721.22 502.96,721.07 507.60,720.92 512.25,720.78 516.89,720.64 521.53,720.50 526.18,720.37 530.82,720.24 535.47,720.12 540.11,719.99 544.75,719.87 549.40,719.76 554.04,719.64 558.69,719.53 563.33,719.43 567.97,719.32 572.62,719.22 577.26,719.12 581.91,719.03 586.55,718.94 591.19,718.85 595.84,718.77 600.48,718.69 605.13,718.61 609.77,718.54 614.42,718.47 619.06,718.40 623.70,718.33 628.35,718.27 632.99,718.22 637.64,718.16 642.28,718.11 646.92,718.06 651.57,718.02 656.21,717.98 660.86,717.94 665.50,717.90" fill="none" stroke="#2014e2" stroke-width="1.9" stroke-dasharray="6.09 2.55"/>
<line x1="391.50" y1="710.12" x2="665.50" y2="710.12" stroke="#e82228" stroke-width="1.5"/>
<circle cx="391.50" cy="710.50" r="1.8" fill="#111"/>
<circle cx="394.24" cy="710.82" r="1.8" fill="#111"/>
<circle cx="396.98" cy="711.13" r="1.8" fill="#111"/>
<circle cx="399.72" cy="712.59" r="1.8" fill="#111"/>
<circle cx="402.46" cy="712.14" r="1.8" fill="#111"/>
<circle cx="405.20" cy="711.83" r="1.8" fill="#111"/>
<circle cx="407.94" cy="711.32" r="1.8" fill="#111"/>
<circle cx="410.68" cy="712.90" r="1.8" fill="#111"/>
<circle cx="413.42" cy="711.32" r="1.8" fill="#111"/>
<circle cx="416.16" cy="710.82" r="1.8" fill="#111"/>
<circle cx="418.90" cy="710.82" r="1.8" fill="#111"/>
<circle cx="421.64" cy="708.79" r="1.8" fill="#111"/>
<circle cx="424.38" cy="705.75" r="1.8" fill="#111"/>
<circle cx="427.12" cy="708.10" r="1.8" fill="#111"/>
<circle cx="429.86" cy="700.12" r="1.8" fill="#111"/>
<circle cx="432.60" cy="712.90" r="1.8" fill="#111"/>
<circle cx="435.34" cy="707.08" r="1.8" fill="#111"/>
<circle cx="438.08" cy="710.82" r="1.8" fill="#111"/>
<circle cx="440.82" cy="711.32" r="1.8" fill="#111"/>
<circle cx="443.56" cy="710.82" r="1.8" fill="#111"/>
<circle cx="446.30" cy="711.32" r="1.8" fill="#111"/>
<circle cx="449.04" cy="712.40" r="1.8" fill="#111"/>
<circle cx="451.78" cy="712.59" r="1.8" fill="#111"/>
<circle cx="454.52" cy="708.10" r="1.8" fill="#111"/>
<circle cx="457.26" cy="711.58" r="1.8" fill="#111"/>
<circle cx="460.00" cy="712.52" r="1.8" fill="#111"/>
<circle cx="462.74" cy="709.61" r="1.8" fill="#111"/>
<circle cx="465.48" cy="710.75" r="1.8" fill="#111"/>
<circle cx="468.22" cy="710.50" r="1.8" fill="#111"/>
<circle cx="470.96" cy="710.75" r="1.8" fill="#111"/>
<circle cx="473.70" cy="709.93" r="1.8" fill="#111"/>
<circle cx="476.44" cy="709.61" r="1.8" fill="#111"/>
<circle cx="479.18" cy="710.50" r="1.8" fill="#111"/>
<circle cx="481.92" cy="710.75" r="1.8" fill="#111"/>
<circle cx="484.66" cy="711.32" r="1.8" fill="#111"/>
<circle cx="487.40" cy="711.58" r="1.8" fill="#111"/>
<circle cx="490.14" cy="709.61" r="1.8" fill="#111"/>
<circle cx="492.88" cy="710.18" r="1.8" fill="#111"/>
<circle cx="495.62" cy="712.52" r="1.8" fill="#111"/>
<circle cx="498.36" cy="710.75" r="1.8" fill="#111"/>
<circle cx="501.10" cy="711.58" r="1.8" fill="#111"/>
<circle cx="503.84" cy="708.10" r="1.8" fill="#111"/>
<circle cx="506.58" cy="709.04" r="1.8" fill="#111"/>
<circle cx="509.32" cy="712.52" r="1.8" fill="#111"/>
<circle cx="512.06" cy="710.50" r="1.8" fill="#111"/>
<circle cx="514.80" cy="711.13" r="1.8" fill="#111"/>
<circle cx="517.54" cy="709.61" r="1.8" fill="#111"/>
<circle cx="520.28" cy="711.13" r="1.8" fill="#111"/>
<circle cx="523.02" cy="711.32" r="1.8" fill="#111"/>
<circle cx="525.76" cy="709.23" r="1.8" fill="#111"/>
<circle cx="528.50" cy="713.09" r="1.8" fill="#111"/>
<circle cx="531.24" cy="711.13" r="1.8" fill="#111"/>
<circle cx="533.98" cy="709.93" r="1.8" fill="#111"/>
<circle cx="536.72" cy="709.23" r="1.8" fill="#111"/>
<circle cx="539.46" cy="709.23" r="1.8" fill="#111"/>
<circle cx="542.20" cy="711.45" r="1.8" fill="#111"/>
<circle cx="544.94" cy="710.94" r="1.8" fill="#111"/>
<circle cx="547.68" cy="711.96" r="1.8" fill="#111"/>
<circle cx="550.42" cy="710.50" r="1.8" fill="#111"/>
<circle cx="553.16" cy="709.23" r="1.8" fill="#111"/>
<circle cx="555.90" cy="710.25" r="1.8" fill="#111"/>
<circle cx="558.64" cy="709.42" r="1.8" fill="#111"/>
<circle cx="561.38" cy="713.47" r="1.8" fill="#111"/>
<circle cx="564.12" cy="703.10" r="1.8" fill="#111"/>
<circle cx="566.86" cy="712.27" r="1.8" fill="#111"/>
<circle cx="569.60" cy="709.93" r="1.8" fill="#111"/>
<circle cx="572.34" cy="709.23" r="1.8" fill="#111"/>
<circle cx="575.08" cy="710.94" r="1.8" fill="#111"/>
<circle cx="577.82" cy="711.45" r="1.8" fill="#111"/>
<circle cx="580.56" cy="712.27" r="1.8" fill="#111"/>
<circle cx="583.30" cy="710.94" r="1.8" fill="#111"/>
<circle cx="586.04" cy="709.23" r="1.8" fill="#111"/>
<circle cx="588.78" cy="718.60" r="1.8" fill="#111"/>
<circle cx="591.52" cy="704.81" r="1.8" fill="#111"/>
<circle cx="594.26" cy="704.81" r="1.8" fill="#111"/>
<circle cx="597.00" cy="717.65" r="1.8" fill="#111"/>
<circle cx="599.74" cy="709.87" r="1.8" fill="#111"/>
<circle cx="602.48" cy="713.98" r="1.8" fill="#111"/>
<circle cx="605.22" cy="711.83" r="1.8" fill="#111"/>
<circle cx="607.96" cy="711.32" r="1.8" fill="#111"/>
<circle cx="610.70" cy="709.17" r="1.8" fill="#111"/>
<circle cx="613.44" cy="711.32" r="1.8" fill="#111"/>
<circle cx="616.18" cy="712.40" r="1.8" fill="#111"/>
<circle cx="618.92" cy="709.74" r="1.8" fill="#111"/>
<circle cx="621.66" cy="705.44" r="1.8" fill="#111"/>
<circle cx="624.40" cy="709.74" r="1.8" fill="#111"/>
<circle cx="627.14" cy="709.74" r="1.8" fill="#111"/>
<circle cx="629.88" cy="704.36" r="1.8" fill="#111"/>
<circle cx="632.62" cy="710.75" r="1.8" fill="#111"/>
<circle cx="635.36" cy="709.74" r="1.8" fill="#111"/>
<circle cx="638.10" cy="712.40" r="1.8" fill="#111"/>
<circle cx="640.84" cy="712.40" r="1.8" fill="#111"/>
<circle cx="643.58" cy="710.75" r="1.8" fill="#111"/>
<circle cx="646.32" cy="711.32" r="1.8" fill="#111"/>
<circle cx="649.06" cy="708.98" r="1.8" fill="#111"/>
<circle cx="651.80" cy="712.90" r="1.8" fill="#111"/>
<circle cx="654.54" cy="710.75" r="1.8" fill="#111"/>
<circle cx="657.28" cy="710.25" r="1.8" fill="#111"/>
<circle cx="660.02" cy="709.74" r="1.8" fill="#111"/>
<circle cx="662.76" cy="711.07" r="1.8" fill="#111"/>
<circle cx="665.50" cy="710.25" r="1.8" fill="#111"/>
</g>
<rect x="391.50" y="615.60" width="274.00" height="189.80" fill="none" stroke="#3a3a3a" stroke-width="1.0"/>
<line x1="388.30" y1="805.40" x2="391.50" y2="805.40" stroke="#3a3a3a" stroke-width="1.0" />
<text x="384.60" y="810.10" font-size="11.70" font-family='"Liberation Sans", sans-serif' text-anchor="end" fill="#000" textLength="19.59" lengthAdjust="spacingAndGlyphs" stroke="#000" stroke-width="0.3" >−15</text>
<line x1="388.30" y1="773.77" x2="391.50" y2="773.77" stroke="#3a3a3a" stroke-width="1.0" />
<text x="384.60" y="778.47" font-size="11.70" font-family='"Liberation Sans", sans-serif' text-anchor="end" fill="#000" textLength="19.59" lengthAdjust="spacingAndGlyphs" stroke="#000" stroke-width="0.3" >−10</text>
<line x1="388.30" y1="742.13" x2="391.50" y2="742.13" stroke="#3a3a3a" stroke-width="1.0" />
<text x="384.60" y="746.83" font-size="11.70" font-family='"Liberation Sans", sans-serif' text-anchor="end" fill="#000" textLength="14.29" lengthAdjust="spacingAndGlyphs" stroke="#000" stroke-width="0.3" >−5</text>
<line x1="388.30" y1="710.50" x2="391.50" y2="710.50" stroke="#3a3a3a" stroke-width="1.0" />
<text x="384.60" y="715.20" font-size="11.70" font-family='"Liberation Sans", sans-serif' text-anchor="end" fill="#000" textLength="5.99" lengthAdjust="spacingAndGlyphs" stroke="#000" stroke-width="0.3" >0</text>
<line x1="388.30" y1="678.87" x2="391.50" y2="678.87" stroke="#3a3a3a" stroke-width="1.0" />
<text x="384.60" y="683.57" font-size="11.70" font-family='"Liberation Sans", sans-serif' text-anchor="end" fill="#000" textLength="5.99" lengthAdjust="spacingAndGlyphs" stroke="#000" stroke-width="0.3" >5</text>
<line x1="388.30" y1="647.23" x2="391.50" y2="647.23" stroke="#3a3a3a" stroke-width="1.0" />
<text x="384.60" y="651.93" font-size="11.70" font-family='"Liberation Sans", sans-serif' text-anchor="end" fill="#000" textLength="11.29" lengthAdjust="spacingAndGlyphs" stroke="#000" stroke-width="0.3" >10</text>
<line x1="388.30" y1="615.60" x2="391.50" y2="615.60" stroke="#3a3a3a" stroke-width="1.0" />
<text x="384.60" y="620.30" font-size="11.70" font-family='"Liberation Sans", sans-serif' text-anchor="end" fill="#000" textLength="11.29" lengthAdjust="spacingAndGlyphs" stroke="#000" stroke-width="0.3" >15</text>
<line x1="391.50" y1="805.40" x2="391.50" y2="808.60" stroke="#3a3a3a" stroke-width="1.0" />
<text x="391.50" y="821.30" font-size="11.70" font-family='"Liberation Sans", sans-serif' text-anchor="middle" fill="#000" textLength="5.99" lengthAdjust="spacingAndGlyphs" stroke="#000" stroke-width="0.3" >0</text>
<line x1="446.30" y1="805.40" x2="446.30" y2="808.60" stroke="#3a3a3a" stroke-width="1.0" />
<text x="446.30" y="821.30" font-size="11.70" font-family='"Liberation Sans", sans-serif' text-anchor="middle" fill="#000" textLength="10.61" lengthAdjust="spacingAndGlyphs" stroke="#000" stroke-width="0.3" >20</text>
<line x1="501.10" y1="805.40" x2="501.10" y2="808.60" stroke="#3a3a3a" stroke-width="1.0" />
<text x="501.10" y="821.30" font-size="11.70" font-family='"Liberation Sans", sans-serif' text-anchor="middle" fill="#000" textLength="10.61" lengthAdjust="spacingAndGlyphs" stroke="#000" stroke-width="0.3" >40</text>
<line x1="555.90" y1="805.40" x2="555.90" y2="808.60" stroke="#3a3a3a" stroke-width="1.0" />
<text x="555.90" y="821.30" font-size="11.70" font-family='"Liberation Sans", sans-serif' text-anchor="middle" fill="#000" textLength="10.61" lengthAdjust="spacingAndGlyphs" stroke="#000" stroke-width="0.3" >60</text>
<line x1="610.70" y1="805.40" x2="610.70" y2="808.60" stroke="#3a3a3a" stroke-width="1.0" />
<text x="610.70" y="821.30" font-size="11.70" font-family='"Liberation Sans", sans-serif' text-anchor="middle" fill="#000" textLength="10.61" lengthAdjust="spacingAndGlyphs" stroke="#000" stroke-width="0.3" >80</text>
<line x1="665.50" y1="805.40" x2="665.50" y2="808.60" stroke="#3a3a3a" stroke-width="1.0" />
<text x="665.50" y="821.30" font-size="11.70" font-family='"Liberation Sans", sans-serif' text-anchor="middle" fill="#000" textLength="17.87" lengthAdjust="spacingAndGlyphs" stroke="#000" stroke-width="0.3" >100</text>
<text x="528.50" y="610.80" font-size="15.50" font-family='"Liberation Serif", serif' text-anchor="middle" fill="#000" textLength="114.60" lengthAdjust="spacingAndGlyphs" stroke="#000" stroke-width="0.3" >Ship course change</text>
<text x="528.50" y="837.40" font-size="15.20" font-family='"Liberation Serif", serif' text-anchor="middle" fill="#000" textLength="118.90" lengthAdjust="spacingAndGlyphs" stroke="#000" stroke-width="0.3" >Number of AIS data</text>
<g transform="translate(357.70,728.40) rotate(-90) scale(1.0,1)" font-family='"Liberation Serif", serif' fill="#000" stroke="#000" stroke-width="0.25"><text x="-0.2" y="0" font-size="14.2" textLength="9.2" lengthAdjust="spacingAndGlyphs">Δ</text><text x="10.9" y="0" font-size="12.4" font-style="italic" textLength="8.8" lengthAdjust="spacingAndGlyphs">ψ</text><text x="20.0" y="0" font-size="14.2" font-style="italic" textLength="4.9" lengthAdjust="spacingAndGlyphs">(</text><text x="25.6" y="-1.2" font-size="14.5" textLength="5.2" lengthAdjust="spacingAndGlyphs">°</text><text x="31.2" y="0" font-size="14.2" font-style="italic" textLength="4.9" lengthAdjust="spacingAndGlyphs">)</text></g>
<rect x="503.40" y="620.60" width="157.20" height="53.70" rx="2" ry="2" fill="#fff" fill-opacity="0.8" stroke="#d6d6d6" stroke-width="0.9"/>
<line x1="506.50" y1="630.30" x2="527.40" y2="630.30" stroke="#e82228" stroke-width="1.5"/>
<circle cx="516.95" cy="647.40" r="1.8" fill="#111"/>
<line x1="506.50" y1="663.50" x2="527.40" y2="663.50" stroke="#2014e2" stroke-width="1.9" stroke-dasharray="6.2 2.6"/>
<text x="533.50" y="634.75" font-size="10.90" font-family='"Liberation Sans", sans-serif' text-anchor="start" fill="#000" textLength="76.49" lengthAdjust="spacingAndGlyphs" stroke="#000" stroke-width="0.3" >Regression line</text>
<text x="533.50" y="651.85" font-size="10.90" font-family='"Liberation Sans", sans-serif' text-anchor="start" fill="#000" textLength="43.80" lengthAdjust="spacingAndGlyphs" stroke="#000" stroke-width="0.3" >AIS point</text>
<text x="533.50" y="667.95" font-size="10.90" font-family='"Liberation Sans", sans-serif' text-anchor="start" fill="#000" textLength="123.52" lengthAdjust="spacingAndGlyphs" stroke="#000" stroke-width="0.3" >Confidence limit (95.0%)</text>
<clipPath id="cdL"><rect x="39.4" y="894.2" width="284.20000000000005" height="190.0999999999999"/></clipPath>
<g clip-path="url(#cdL)">
<polyline points="39.40,972.39 44.22,973.49 49.03,974.57 53.85,975.64 58.67,976.70 63.48,977.75 68.30,978.78 73.12,979.80 77.94,980.81 82.75,981.81 87.57,982.79 92.39,983.77 97.20,984.73 102.02,985.67 106.84,986.61 111.65,987.53 116.47,988.44 121.29,989.34 126.11,990.22 130.92,991.10 135.74,991.96 140.56,992.81 145.37,993.64 150.19,994.46 155.01,995.28 159.82,996.07 164.64,996.86 169.46,997.63 174.27,998.40 179.09,999.15 183.91,999.88 188.73,1000.61 193.54,1001.32 198.36,1002.02 203.18,1002.71 207.99,1003.38 212.81,1004.04 217.63,1004.69 222.44,1005.33 227.26,1005.96 232.08,1006.57 236.89,1007.17 241.71,1007.76 246.53,1008.33 251.35,1008.90 256.16,1009.45 260.98,1009.99 265.80,1010.51 270.61,1011.03 275.43,1011.53 280.25,1012.02 285.06,1012.50 289.88,1012.96 294.70,1013.41 299.52,1013.85 304.33,1014.28 309.15,1014.69 313.97,1015.10 318.78,1015.49 323.60,1015.86" fill="none" stroke="#2014e2" stroke-width="1.9" stroke-dasharray="6.32 2.65"/>
<polyline points="39.40,1041.02 44.22,1041.03 49.03,1041.05 53.85,1041.07 58.67,1041.10 63.48,1041.13 68.30,1041.17 73.12,1041.21 77.94,1041.25 82.75,1041.31 87.57,1041.36 92.39,1041.42 97.20,1041.49 102.02,1041.56 106.84,1041.63 111.65,1041.71 116.47,1041.80 121.29,1041.89 126.11,1041.98 130.92,1042.08 135.74,1042.19 140.56,1042.30 145.37,1042.41 150.19,1042.53 155.01,1042.66 159.82,1042.79 164.64,1042.92 169.46,1043.06 174.27,1043.20 179.09,1043.35 183.91,1043.51 188.73,1043.66 193.54,1043.83 198.36,1044.00 203.18,1044.17 207.99,1044.35 212.81,1044.53 217.63,1044.72 222.44,1044.91 227.26,1045.11 232.08,1045.31 236.89,1045.52 241.71,1045.73 246.53,1045.95 251.35,1046.17 256.16,1046.40 260.98,1046.63 265.80,1046.86 270.61,1047.10 275.43,1047.35 280.25,1047.60 285.06,1047.86 289.88,1048.12 294.70,1048.38 299.52,1048.66 304.33,1048.93 309.15,1049.21 313.97,1049.50 318.78,1049.79 323.60,1050.08" fill="none" stroke="#2014e2" stroke-width="1.9" stroke-dasharray="6.32 2.65"/>
<line x1="39.40" y1="1006.49" x2="323.60" y2="1032.97" stroke="#e82228" stroke-width="1.5"/>
<circle cx="39.40" cy="1027.52" r="1.8" fill="#111"/>
<circle cx="42.24" cy="1032.78" r="1.8" fill="#111"/>
<circle cx="45.08" cy="1029.99" r="1.8" fill="#111"/>
<circle cx="47.93" cy="1029.11" r="1.8" fill="#111"/>
<circle cx="50.77" cy="1036.14" r="1.8" fill="#111"/>
<circle cx="53.61" cy="1033.48" r="1.8" fill="#111"/>
<circle cx="56.45" cy="1030.82" r="1.8" fill="#111"/>
<circle cx="59.29" cy="1030.12" r="1.8" fill="#111"/>
<circle cx="62.14" cy="1027.33" r="1.8" fill="#111"/>
<circle cx="64.98" cy="1033.48" r="1.8" fill="#111"/>
<circle cx="67.82" cy="1027.33" r="1.8" fill="#111"/>
<circle cx="70.66" cy="1031.01" r="1.8" fill="#111"/>
<circle cx="73.50" cy="1031.01" r="1.8" fill="#111"/>
<circle cx="76.35" cy="989.38" r="1.8" fill="#111"/>
<circle cx="79.19" cy="956.11" r="1.8" fill="#111"/>
<circle cx="82.03" cy="931.59" r="1.8" fill="#111"/>
<circle cx="84.87" cy="908.14" r="1.8" fill="#111"/>
<circle cx="87.71" cy="901.17" r="1.8" fill="#111"/>
<circle cx="90.56" cy="896.73" r="1.8" fill="#111"/>
<circle cx="93.40" cy="901.17" r="1.8" fill="#111"/>
<circle cx="96.24" cy="913.21" r="1.8" fill="#111"/>
<circle cx="99.08" cy="901.80" r="1.8" fill="#111"/>
<circle cx="101.92" cy="894.83" r="1.8" fill="#111"/>
<circle cx="104.77" cy="903.07" r="1.8" fill="#111"/>
<circle cx="107.61" cy="1033.48" r="1.8" fill="#111"/>
<circle cx="110.45" cy="1034.30" r="1.8" fill="#111"/>
<circle cx="113.29" cy="1034.49" r="1.8" fill="#111"/>
<circle cx="116.13" cy="1031.90" r="1.8" fill="#111"/>
<circle cx="118.98" cy="1033.48" r="1.8" fill="#111"/>
<circle cx="121.82" cy="1029.68" r="1.8" fill="#111"/>
<circle cx="124.66" cy="1029.99" r="1.8" fill="#111"/>
<circle cx="127.50" cy="1028.03" r="1.8" fill="#111"/>
<circle cx="130.34" cy="1031.90" r="1.8" fill="#111"/>
<circle cx="133.19" cy="1029.99" r="1.8" fill="#111"/>
<circle cx="136.03" cy="1034.49" r="1.8" fill="#111"/>
<circle cx="138.87" cy="1031.77" r="1.8" fill="#111"/>
<circle cx="141.71" cy="1031.52" r="1.8" fill="#111"/>
<circle cx="144.55" cy="1032.59" r="1.8" fill="#111"/>
<circle cx="147.40" cy="1028.03" r="1.8" fill="#111"/>
<circle cx="150.24" cy="1030.82" r="1.8" fill="#111"/>
<circle cx="153.08" cy="1030.88" r="1.8" fill="#111"/>
<circle cx="155.92" cy="1029.99" r="1.8" fill="#111"/>
<circle cx="158.76" cy="1031.07" r="1.8" fill="#111"/>
<circle cx="161.61" cy="1033.23" r="1.8" fill="#111"/>
<circle cx="164.45" cy="1027.90" r="1.8" fill="#111"/>
<circle cx="167.29" cy="1026.19" r="1.8" fill="#111"/>
<circle cx="170.13" cy="1030.18" r="1.8" fill="#111"/>
<circle cx="172.97" cy="1027.90" r="1.8" fill="#111"/>
<circle cx="175.82" cy="1026.70" r="1.8" fill="#111"/>
<circle cx="178.66" cy="1029.30" r="1.8" fill="#111"/>
<circle cx="181.50" cy="1024.99" r="1.8" fill="#111"/>
<circle cx="184.34" cy="1027.33" r="1.8" fill="#111"/>
<circle cx="187.18" cy="1029.99" r="1.8" fill="#111"/>
<circle cx="190.03" cy="1031.14" r="1.8" fill="#111"/>
<circle cx="192.87" cy="1027.33" r="1.8" fill="#111"/>
<circle cx="195.71" cy="1030.18" r="1.8" fill="#111"/>
<circle cx="198.55" cy="1027.59" r="1.8" fill="#111"/>
<circle cx="201.39" cy="1025.62" r="1.8" fill="#111"/>
<circle cx="204.24" cy="1029.30" r="1.8" fill="#111"/>
<circle cx="207.08" cy="1030.31" r="1.8" fill="#111"/>
<circle cx="209.92" cy="1028.54" r="1.8" fill="#111"/>
<circle cx="212.76" cy="1027.33" r="1.8" fill="#111"/>
<circle cx="215.60" cy="1027.33" r="1.8" fill="#111"/>
<circle cx="218.45" cy="1030.31" r="1.8" fill="#111"/>
<circle cx="221.29" cy="1034.43" r="1.8" fill="#111"/>
<circle cx="224.13" cy="1030.06" r="1.8" fill="#111"/>
<circle cx="226.97" cy="1029.04" r="1.8" fill="#111"/>
<circle cx="229.81" cy="1031.64" r="1.8" fill="#111"/>
<circle cx="232.66" cy="1032.53" r="1.8" fill="#111"/>
<circle cx="235.50" cy="1031.45" r="1.8" fill="#111"/>
<circle cx="238.34" cy="1033.61" r="1.8" fill="#111"/>
<circle cx="241.18" cy="1032.53" r="1.8" fill="#111"/>
<circle cx="244.02" cy="1034.68" r="1.8" fill="#111"/>
<circle cx="246.87" cy="1032.53" r="1.8" fill="#111"/>
<circle cx="249.71" cy="1036.20" r="1.8" fill="#111"/>
<circle cx="252.55" cy="1034.43" r="1.8" fill="#111"/>
<circle cx="255.39" cy="1034.24" r="1.8" fill="#111"/>
<circle cx="258.23" cy="1033.80" r="1.8" fill="#111"/>
<circle cx="261.08" cy="1033.48" r="1.8" fill="#111"/>
<circle cx="263.92" cy="1034.24" r="1.8" fill="#111"/>
<circle cx="266.76" cy="1032.34" r="1.8" fill="#111"/>
<circle cx="269.60" cy="1034.62" r="1.8" fill="#111"/>
<circle cx="272.44" cy="1036.58" r="1.8" fill="#111"/>
<circle cx="275.29" cy="1035.19" r="1.8" fill="#111"/>
<circle cx="278.13" cy="1034.30" r="1.8" fill="#111"/>
<circle cx="280.97" cy="1035.19" r="1.8" fill="#111"/>
<circle cx="283.81" cy="1039.69" r="1.8" fill="#111"/>
<circle cx="286.65" cy="1035.19" r="1.8" fill="#111"/>
<circle cx="289.50" cy="1035.19" r="1.8" fill="#111"/>
<circle cx="292.34" cy="1040.39" r="1.8" fill="#111"/>
<circle cx="295.18" cy="1038.80" r="1.8" fill="#111"/>
<circle cx="298.02" cy="1038.80" r="1.8" fill="#111"/>
<circle cx="300.86" cy="1040.01" r="1.8" fill="#111"/>
<circle cx="303.71" cy="1040.70" r="1.8" fill="#111"/>
<circle cx="306.55" cy="1038.80" r="1.8" fill="#111"/>
<circle cx="309.39" cy="1038.80" r="1.8" fill="#111"/>
<circle cx="312.23" cy="1043.11" r="1.8" fill="#111"/>
<circle cx="315.07" cy="1035.38" r="1.8" fill="#111"/>
<circle cx="317.92" cy="1041.40" r="1.8" fill="#111"/>
<circle cx="320.76" cy="1039.69" r="1.8" fill="#111"/>
<circle cx="323.60" cy="1045.77" r="1.8" fill="#111"/>
</g>
<rect x="39.40" y="894.20" width="284.20" height="190.10" fill="none" stroke="#3a3a3a" stroke-width="1.0"/>
<line x1="36.20" y1="1084.30" x2="39.40" y2="1084.30" stroke="#3a3a3a" stroke-width="1.0" />
<text x="33.00" y="1089.00" font-size="11.70" font-family='"Liberation Sans", sans-serif' text-anchor="end" fill="#000" textLength="6.21" lengthAdjust="spacingAndGlyphs" stroke="#000" stroke-width="0.3" >0</text>
<line x1="36.20" y1="1052.62" x2="39.40" y2="1052.62" stroke="#3a3a3a" stroke-width="1.0" />
<text x="33.00" y="1057.32" font-size="11.70" font-family='"Liberation Sans", sans-serif' text-anchor="end" fill="#000" textLength="6.21" lengthAdjust="spacingAndGlyphs" stroke="#000" stroke-width="0.3" >5</text>
<line x1="36.20" y1="1020.93" x2="39.40" y2="1020.93" stroke="#3a3a3a" stroke-width="1.0" />
<text x="33.00" y="1025.63" font-size="11.70" font-family='"Liberation Sans", sans-serif' text-anchor="end" fill="#000" textLength="11.71" lengthAdjust="spacingAndGlyphs" stroke="#000" stroke-width="0.3" >10</text>
<line x1="36.20" y1="989.25" x2="39.40" y2="989.25" stroke="#3a3a3a" stroke-width="1.0" />
<text x="33.00" y="993.95" font-size="11.70" font-family='"Liberation Sans", sans-serif' text-anchor="end" fill="#000" textLength="11.71" lengthAdjust="spacingAndGlyphs" stroke="#000" stroke-width="0.3" >15</text>
<line x1="36.20" y1="957.57" x2="39.40" y2="957.57" stroke="#3a3a3a" stroke-width="1.0" />
<text x="33.00" y="962.27" font-size="11.70" font-family='"Liberation Sans", sans-serif' text-anchor="end" fill="#000" textLength="11.71" lengthAdjust="spacingAndGlyphs" stroke="#000" stroke-width="0.3" >20</text>
<line x1="36.20" y1="925.88" x2="39.40" y2="925.88" stroke="#3a3a3a" stroke-width="1.0" />
<text x="33.00" y="930.58" font-size="11.70" font-family='"Liberation Sans", sans-serif' text-anchor="end" fill="#000" textLength="11.71" lengthAdjust="spacingAndGlyphs" stroke="#000" stroke-width="0.3" >25</text>
<line x1="36.20" y1="894.20" x2="39.40" y2="894.20" stroke="#3a3a3a" stroke-width="1.0" />
<text x="33.00" y="898.90" font-size="11.70" font-family='"Liberation Sans", sans-serif' text-anchor="end" fill="#000" textLength="11.71" lengthAdjust="spacingAndGlyphs" stroke="#000" stroke-width="0.3" >30</text>
<line x1="39.40" y1="1084.30" x2="39.40" y2="1087.50" stroke="#3a3a3a" stroke-width="1.0" />
<text x="39.40" y="1100.20" font-size="11.70" font-family='"Liberation Sans", sans-serif' text-anchor="middle" fill="#000" textLength="6.21" lengthAdjust="spacingAndGlyphs" stroke="#000" stroke-width="0.3" >0</text>
<line x1="96.24" y1="1084.30" x2="96.24" y2="1087.50" stroke="#3a3a3a" stroke-width="1.0" />
<text x="96.24" y="1100.20" font-size="11.70" font-family='"Liberation Sans", sans-serif' text-anchor="middle" fill="#000" textLength="11.00" lengthAdjust="spacingAndGlyphs" stroke="#000" stroke-width="0.3" >20</text>
<line x1="153.08" y1="1084.30" x2="153.08" y2="1087.50" stroke="#3a3a3a" stroke-width="1.0" />
<text x="153.08" y="1100.20" font-size="11.70" font-family='"Liberation Sans", sans-serif' text-anchor="middle" fill="#000" textLength="11.00" lengthAdjust="spacingAndGlyphs" stroke="#000" stroke-width="0.3" >40</text>
<line x1="209.92" y1="1084.30" x2="209.92" y2="1087.50" stroke="#3a3a3a" stroke-width="1.0" />
<text x="209.92" y="1100.20" font-size="11.70" font-family='"Liberation Sans", sans-serif' text-anchor="middle" fill="#000" textLength="11.00" lengthAdjust="spacingAndGlyphs" stroke="#000" stroke-width="0.3" >60</text>
<line x1="266.76" y1="1084.30" x2="266.76" y2="1087.50" stroke="#3a3a3a" stroke-width="1.0" />
<text x="266.76" y="1100.20" font-size="11.70" font-family='"Liberation Sans", sans-serif' text-anchor="middle" fill="#000" textLength="11.00" lengthAdjust="spacingAndGlyphs" stroke="#000" stroke-width="0.3" >80</text>
<line x1="323.60" y1="1084.30" x2="323.60" y2="1087.50" stroke="#3a3a3a" stroke-width="1.0" />
<text x="323.60" y="1100.20" font-size="11.70" font-family='"Liberation Sans", sans-serif' text-anchor="middle" fill="#000" textLength="18.54" lengthAdjust="spacingAndGlyphs" stroke="#000" stroke-width="0.3" >100</text>
<text x="181.50" y="889.10" font-size="15.60" font-family='"Liberation Serif", serif' text-anchor="middle" fill="#000" textLength="118.10" lengthAdjust="spacingAndGlyphs" stroke="#000" stroke-width="0.3" >Ship average speed</text>
<text x="181.50" y="1115.40" font-size="15.00" font-family='"Liberation Serif", serif' text-anchor="middle" fill="#000" textLength="122.50" lengthAdjust="spacingAndGlyphs" stroke="#000" stroke-width="0.3" >Number of AIS data</text>
<g transform="translate(12.80,1007.65) rotate(-90) scale(1.0,1)" font-family='"Liberation Serif", serif' font-style="italic" fill="#000" stroke="#000" stroke-width="0.25"><text x="-0.6" y="0" font-size="14.6" textLength="7.2" lengthAdjust="spacingAndGlyphs">v</text><line x1="8.2" y1="-11.3" x2="16.0" y2="-11.3" stroke="#000" stroke-width="1.0"/><text x="14.2" y="0" font-size="14.6" textLength="24.6" lengthAdjust="spacingAndGlyphs">(kn)</text></g>
<rect x="155.60" y="899.70" width="163.00" height="52.90" rx="2" ry="2" fill="#fff" fill-opacity="0.8" stroke="#d6d6d6" stroke-width="0.9"/>
<line x1="158.90" y1="908.70" x2="180.10" y2="908.70" stroke="#e82228" stroke-width="1.5"/>
<circle cx="169.50" cy="925.80" r="1.8" fill="#111"/>
<line x1="158.90" y1="942.40" x2="180.10" y2="942.40" stroke="#2014e2" stroke-width="1.9" stroke-dasharray="6.2 2.6"/>
<text x="187.20" y="913.15" font-size="10.90" font-family='"Liberation Sans", sans-serif' text-anchor="start" fill="#000" textLength="79.14" lengthAdjust="spacingAndGlyphs" stroke="#000" stroke-width="0.3" >Regression line</text>
<text x="187.20" y="930.25" font-size="10.90" font-family='"Liberation Sans", sans-serif' text-anchor="start" fill="#000" textLength="45.00" lengthAdjust="spacingAndGlyphs" stroke="#000" stroke-width="0.3" >AIS point</text>
<text x="187.20" y="946.85" font-size="10.90" font-family='"Liberation Sans", sans-serif' text-anchor="start" fill="#000" textLength="127.36" lengthAdjust="spacingAndGlyphs" stroke="#000" stroke-width="0.3" >Confidence limit (95.0%)</text>
<clipPath id="cdR"><rect x="391.2" y="894.2" width="284.2" height="190.0999999999999"/></clipPath>
<g clip-path="url(#cdR)">
<polyline points="391.20,947.30 396.02,947.83 400.83,948.35 405.65,948.87 410.47,949.38 415.28,949.89 420.10,950.39 424.92,950.88 429.74,951.37 434.55,951.86 439.37,952.34 444.19,952.81 449.00,953.28 453.82,953.74 458.64,954.20 463.45,954.65 468.27,955.10 473.09,955.54 477.91,955.98 482.72,956.41 487.54,956.83 492.36,957.25 497.17,957.67 501.99,958.08 506.81,958.48 511.62,958.88 516.44,959.27 521.26,959.66 526.07,960.04 530.89,960.42 535.71,960.79 540.53,961.16 545.34,961.52 550.16,961.88 554.98,962.23 559.79,962.57 564.61,962.91 569.43,963.24 574.24,963.57 579.06,963.90 583.88,964.21 588.69,964.53 593.51,964.83 598.33,965.13 603.15,965.43 607.96,965.72 612.78,966.01 617.60,966.29 622.41,966.56 627.23,966.83 632.05,967.09 636.86,967.35 641.68,967.61 646.50,967.85 651.32,968.10 656.13,968.33 660.95,968.56 665.77,968.79 670.58,969.01 675.40,969.23" fill="none" stroke="#2014e2" stroke-width="1.9" stroke-dasharray="6.32 2.65"/>
<polyline points="391.20,1004.39 396.02,1004.13 400.83,1003.87 405.65,1003.62 410.47,1003.37 415.28,1003.13 420.10,1002.89 424.92,1002.66 429.74,1002.43 434.55,1002.21 439.37,1001.99 444.19,1001.78 449.00,1001.57 453.82,1001.37 458.64,1001.17 463.45,1000.98 468.27,1000.79 473.09,1000.61 477.91,1000.43 482.72,1000.26 487.54,1000.09 492.36,999.93 497.17,999.77 501.99,999.62 506.81,999.47 511.62,999.33 516.44,999.20 521.26,999.06 526.07,998.94 530.89,998.81 535.71,998.70 540.53,998.59 545.34,998.48 550.16,998.38 554.98,998.28 559.79,998.19 564.61,998.10 569.43,998.02 574.24,997.94 579.06,997.87 583.88,997.80 588.69,997.74 593.51,997.68 598.33,997.63 603.15,997.59 607.96,997.54 612.78,997.51 617.60,997.48 622.41,997.45 627.23,997.43 632.05,997.41 636.86,997.40 641.68,997.39 646.50,997.39 651.32,997.39 656.13,997.40 660.95,997.42 665.77,997.44 670.58,997.46 675.40,997.49" fill="none" stroke="#2014e2" stroke-width="1.9" stroke-dasharray="6.32 2.65"/>
<line x1="391.20" y1="975.18" x2="675.40" y2="983.80" stroke="#e82228" stroke-width="1.5"/>
<circle cx="391.20" cy="989.25" r="1.8" fill="#111"/>
<circle cx="394.04" cy="982.91" r="1.8" fill="#111"/>
<circle cx="396.88" cy="995.59" r="1.8" fill="#111"/>
<circle cx="399.73" cy="989.25" r="1.8" fill="#111"/>
<circle cx="402.57" cy="989.25" r="1.8" fill="#111"/>
<circle cx="405.41" cy="989.25" r="1.8" fill="#111"/>
<circle cx="408.25" cy="989.25" r="1.8" fill="#111"/>
<circle cx="411.09" cy="982.91" r="1.8" fill="#111"/>
<circle cx="413.94" cy="989.25" r="1.8" fill="#111"/>
<circle cx="416.78" cy="989.25" r="1.8" fill="#111"/>
<circle cx="419.62" cy="989.25" r="1.8" fill="#111"/>
<circle cx="422.46" cy="995.59" r="1.8" fill="#111"/>
<circle cx="425.30" cy="989.25" r="1.8" fill="#111"/>
<circle cx="428.15" cy="913.21" r="1.8" fill="#111"/>
<circle cx="430.99" cy="894.20" r="1.8" fill="#111"/>
<circle cx="433.83" cy="1052.62" r="1.8" fill="#111"/>
<circle cx="439.51" cy="919.55" r="1.8" fill="#111"/>
<circle cx="442.36" cy="894.20" r="1.8" fill="#111"/>
<circle cx="445.20" cy="1077.96" r="1.8" fill="#111"/>
<circle cx="448.04" cy="894.20" r="1.8" fill="#111"/>
<circle cx="450.88" cy="920.18" r="1.8" fill="#111"/>
<circle cx="453.72" cy="1065.29" r="1.8" fill="#111"/>
<circle cx="456.57" cy="903.71" r="1.8" fill="#111"/>
<circle cx="459.41" cy="901.17" r="1.8" fill="#111"/>
<circle cx="462.25" cy="1084.30" r="1.8" fill="#111"/>
<circle cx="465.09" cy="1069.09" r="1.8" fill="#111"/>
<circle cx="467.93" cy="894.20" r="1.8" fill="#111"/>
<circle cx="470.78" cy="906.87" r="1.8" fill="#111"/>
<circle cx="473.62" cy="989.25" r="1.8" fill="#111"/>
<circle cx="476.46" cy="989.25" r="1.8" fill="#111"/>
<circle cx="479.30" cy="989.25" r="1.8" fill="#111"/>
<circle cx="482.14" cy="984.75" r="1.8" fill="#111"/>
<circle cx="484.99" cy="989.25" r="1.8" fill="#111"/>
<circle cx="487.83" cy="986.21" r="1.8" fill="#111"/>
<circle cx="490.67" cy="995.40" r="1.8" fill="#111"/>
<circle cx="493.51" cy="995.40" r="1.8" fill="#111"/>
<circle cx="496.35" cy="989.25" r="1.8" fill="#111"/>
<circle cx="499.20" cy="995.40" r="1.8" fill="#111"/>
<circle cx="502.04" cy="989.25" r="1.8" fill="#111"/>
<circle cx="504.88" cy="986.21" r="1.8" fill="#111"/>
<circle cx="507.72" cy="995.40" r="1.8" fill="#111"/>
<circle cx="510.56" cy="991.91" r="1.8" fill="#111"/>
<circle cx="513.41" cy="989.25" r="1.8" fill="#111"/>
<circle cx="516.25" cy="989.25" r="1.8" fill="#111"/>
<circle cx="519.09" cy="988.24" r="1.8" fill="#111"/>
<circle cx="521.93" cy="992.61" r="1.8" fill="#111"/>
<circle cx="524.77" cy="985.57" r="1.8" fill="#111"/>
<circle cx="527.62" cy="995.21" r="1.8" fill="#111"/>
<circle cx="530.46" cy="989.25" r="1.8" fill="#111"/>
<circle cx="533.30" cy="987.98" r="1.8" fill="#111"/>
<circle cx="536.14" cy="988.36" r="1.8" fill="#111"/>
<circle cx="538.98" cy="989.25" r="1.8" fill="#111"/>
<circle cx="541.83" cy="989.25" r="1.8" fill="#111"/>
<circle cx="544.67" cy="989.25" r="1.8" fill="#111"/>
<circle cx="547.51" cy="989.25" r="1.8" fill="#111"/>
<circle cx="550.35" cy="989.25" r="1.8" fill="#111"/>
<circle cx="553.19" cy="989.25" r="1.8" fill="#111"/>
<circle cx="556.04" cy="989.25" r="1.8" fill="#111"/>
<circle cx="558.88" cy="990.14" r="1.8" fill="#111"/>
<circle cx="561.72" cy="988.81" r="1.8" fill="#111"/>
<circle cx="564.56" cy="988.81" r="1.8" fill="#111"/>
<circle cx="567.40" cy="987.98" r="1.8" fill="#111"/>
<circle cx="570.25" cy="988.81" r="1.8" fill="#111"/>
<circle cx="573.09" cy="987.10" r="1.8" fill="#111"/>
<circle cx="575.93" cy="988.36" r="1.8" fill="#111"/>
<circle cx="578.77" cy="983.86" r="1.8" fill="#111"/>
<circle cx="581.61" cy="984.88" r="1.8" fill="#111"/>
<circle cx="584.46" cy="986.46" r="1.8" fill="#111"/>
<circle cx="587.30" cy="990.83" r="1.8" fill="#111"/>
<circle cx="590.14" cy="987.10" r="1.8" fill="#111"/>
<circle cx="592.98" cy="990.83" r="1.8" fill="#111"/>
<circle cx="595.82" cy="989.12" r="1.8" fill="#111"/>
<circle cx="598.67" cy="988.81" r="1.8" fill="#111"/>
<circle cx="601.51" cy="987.10" r="1.8" fill="#111"/>
<circle cx="604.35" cy="989.25" r="1.8" fill="#111"/>
<circle cx="607.19" cy="989.25" r="1.8" fill="#111"/>
<circle cx="610.03" cy="989.25" r="1.8" fill="#111"/>
<circle cx="612.88" cy="989.25" r="1.8" fill="#111"/>
<circle cx="615.72" cy="989.25" r="1.8" fill="#111"/>
<circle cx="618.56" cy="982.98" r="1.8" fill="#111"/>
<circle cx="621.40" cy="988.81" r="1.8" fill="#111"/>
<circle cx="624.24" cy="987.10" r="1.8" fill="#111"/>
<circle cx="627.09" cy="982.28" r="1.8" fill="#111"/>
<circle cx="629.93" cy="989.25" r="1.8" fill="#111"/>
<circle cx="632.77" cy="989.25" r="1.8" fill="#111"/>
<circle cx="635.61" cy="989.25" r="1.8" fill="#111"/>
<circle cx="638.45" cy="989.25" r="1.8" fill="#111"/>
<circle cx="641.30" cy="989.25" r="1.8" fill="#111"/>
<circle cx="644.14" cy="989.25" r="1.8" fill="#111"/>
<circle cx="646.98" cy="989.25" r="1.8" fill="#111"/>
<circle cx="649.82" cy="989.25" r="1.8" fill="#111"/>
<circle cx="652.66" cy="989.25" r="1.8" fill="#111"/>
<circle cx="655.51" cy="988.87" r="1.8" fill="#111"/>
<circle cx="658.35" cy="987.98" r="1.8" fill="#111"/>
<circle cx="661.19" cy="991.28" r="1.8" fill="#111"/>
<circle cx="664.03" cy="989.25" r="1.8" fill="#111"/>
<circle cx="666.87" cy="989.25" r="1.8" fill="#111"/>
<circle cx="669.72" cy="989.25" r="1.8" fill="#111"/>
<circle cx="672.56" cy="986.91" r="1.8" fill="#111"/>
<circle cx="675.40" cy="988.62" r="1.8" fill="#111"/>
</g>
<rect x="391.20" y="894.20" width="284.20" height="190.10" fill="none" stroke="#3a3a3a" stroke-width="1.0"/>
<line x1="388.00" y1="1084.30" x2="391.20" y2="1084.30" stroke="#3a3a3a" stroke-width="1.0" />
<text x="384.30" y="1089.00" font-size="11.70" font-family='"Liberation Sans", sans-serif' text-anchor="end" fill="#000" textLength="20.01" lengthAdjust="spacingAndGlyphs" stroke="#000" stroke-width="0.3" >−15</text>
<line x1="388.00" y1="1052.62" x2="391.20" y2="1052.62" stroke="#3a3a3a" stroke-width="1.0" />
<text x="384.30" y="1057.32" font-size="11.70" font-family='"Liberation Sans", sans-serif' text-anchor="end" fill="#000" textLength="20.01" lengthAdjust="spacingAndGlyphs" stroke="#000" stroke-width="0.3" >−10</text>
<line x1="388.00" y1="1020.93" x2="391.20" y2="1020.93" stroke="#3a3a3a" stroke-width="1.0" />
<text x="384.30" y="1025.63" font-size="11.70" font-family='"Liberation Sans", sans-serif' text-anchor="end" fill="#000" textLength="14.51" lengthAdjust="spacingAndGlyphs" stroke="#000" stroke-width="0.3" >−5</text>
<line x1="388.00" y1="989.25" x2="391.20" y2="989.25" stroke="#3a3a3a" stroke-width="1.0" />
<text x="384.30" y="993.95" font-size="11.70" font-family='"Liberation Sans", sans-serif' text-anchor="end" fill="#000" textLength="6.21" lengthAdjust="spacingAndGlyphs" stroke="#000" stroke-width="0.3" >0</text>
<line x1="388.00" y1="957.57" x2="391.20" y2="957.57" stroke="#3a3a3a" stroke-width="1.0" />
<text x="384.30" y="962.27" font-size="11.70" font-family='"Liberation Sans", sans-serif' text-anchor="end" fill="#000" textLength="6.21" lengthAdjust="spacingAndGlyphs" stroke="#000" stroke-width="0.3" >5</text>
<line x1="388.00" y1="925.88" x2="391.20" y2="925.88" stroke="#3a3a3a" stroke-width="1.0" />
<text x="384.30" y="930.58" font-size="11.70" font-family='"Liberation Sans", sans-serif' text-anchor="end" fill="#000" textLength="11.71" lengthAdjust="spacingAndGlyphs" stroke="#000" stroke-width="0.3" >10</text>
<line x1="388.00" y1="894.20" x2="391.20" y2="894.20" stroke="#3a3a3a" stroke-width="1.0" />
<text x="384.30" y="898.90" font-size="11.70" font-family='"Liberation Sans", sans-serif' text-anchor="end" fill="#000" textLength="11.71" lengthAdjust="spacingAndGlyphs" stroke="#000" stroke-width="0.3" >15</text>
<line x1="391.20" y1="1084.30" x2="391.20" y2="1087.50" stroke="#3a3a3a" stroke-width="1.0" />
<text x="391.20" y="1100.20" font-size="11.70" font-family='"Liberation Sans", sans-serif' text-anchor="middle" fill="#000" textLength="6.21" lengthAdjust="spacingAndGlyphs" stroke="#000" stroke-width="0.3" >0</text>
<line x1="448.04" y1="1084.30" x2="448.04" y2="1087.50" stroke="#3a3a3a" stroke-width="1.0" />
<text x="448.04" y="1100.20" font-size="11.70" font-family='"Liberation Sans", sans-serif' text-anchor="middle" fill="#000" textLength="11.00" lengthAdjust="spacingAndGlyphs" stroke="#000" stroke-width="0.3" >20</text>
<line x1="504.88" y1="1084.30" x2="504.88" y2="1087.50" stroke="#3a3a3a" stroke-width="1.0" />
<text x="504.88" y="1100.20" font-size="11.70" font-family='"Liberation Sans", sans-serif' text-anchor="middle" fill="#000" textLength="11.00" lengthAdjust="spacingAndGlyphs" stroke="#000" stroke-width="0.3" >40</text>
<line x1="561.72" y1="1084.30" x2="561.72" y2="1087.50" stroke="#3a3a3a" stroke-width="1.0" />
<text x="561.72" y="1100.20" font-size="11.70" font-family='"Liberation Sans", sans-serif' text-anchor="middle" fill="#000" textLength="11.00" lengthAdjust="spacingAndGlyphs" stroke="#000" stroke-width="0.3" >60</text>
<line x1="618.56" y1="1084.30" x2="618.56" y2="1087.50" stroke="#3a3a3a" stroke-width="1.0" />
<text x="618.56" y="1100.20" font-size="11.70" font-family='"Liberation Sans", sans-serif' text-anchor="middle" fill="#000" textLength="11.00" lengthAdjust="spacingAndGlyphs" stroke="#000" stroke-width="0.3" >80</text>
<line x1="675.40" y1="1084.30" x2="675.40" y2="1087.50" stroke="#3a3a3a" stroke-width="1.0" />
<text x="675.40" y="1100.20" font-size="11.70" font-family='"Liberation Sans", sans-serif' text-anchor="middle" fill="#000" textLength="18.54" lengthAdjust="spacingAndGlyphs" stroke="#000" stroke-width="0.3" >100</text>
<text x="533.30" y="889.10" font-size="15.60" font-family='"Liberation Serif", serif' text-anchor="middle" fill="#000" textLength="118.90" lengthAdjust="spacingAndGlyphs" stroke="#000" stroke-width="0.3" >Ship course change</text>
<text x="533.30" y="1115.40" font-size="15.00" font-family='"Liberation Serif", serif' text-anchor="middle" fill="#000" textLength="122.50" lengthAdjust="spacingAndGlyphs" stroke="#000" stroke-width="0.3" >Number of AIS data</text>
<g transform="translate(356.50,1007.15) rotate(-90) scale(1.0,1)" font-family='"Liberation Serif", serif' fill="#000" stroke="#000" stroke-width="0.25"><text x="-0.2" y="0" font-size="14.2" textLength="9.2" lengthAdjust="spacingAndGlyphs">Δ</text><text x="10.9" y="0" font-size="12.4" font-style="italic" textLength="8.8" lengthAdjust="spacingAndGlyphs">ψ</text><text x="20.0" y="0" font-size="14.2" font-style="italic" textLength="4.9" lengthAdjust="spacingAndGlyphs">(</text><text x="25.6" y="-1.2" font-size="14.5" textLength="5.2" lengthAdjust="spacingAndGlyphs">°</text><text x="31.2" y="0" font-size="14.2" font-style="italic" textLength="4.9" lengthAdjust="spacingAndGlyphs">)</text></g>
<rect x="507.60" y="899.70" width="162.20" height="52.90" rx="2" ry="2" fill="#fff" fill-opacity="0.8" stroke="#d6d6d6" stroke-width="0.9"/>
<line x1="510.60" y1="908.70" x2="531.80" y2="908.70" stroke="#e82228" stroke-width="1.5"/>
<circle cx="521.20" cy="925.80" r="1.8" fill="#111"/>
<line x1="510.60" y1="942.40" x2="531.80" y2="942.40" stroke="#2014e2" stroke-width="1.9" stroke-dasharray="6.2 2.6"/>
<text x="538.90" y="913.15" font-size="10.90" font-family='"Liberation Sans", sans-serif' text-anchor="start" fill="#000" textLength="79.04" lengthAdjust="spacingAndGlyphs" stroke="#000" stroke-width="0.3" >Regression line</text>
<text x="538.90" y="930.25" font-size="10.90" font-family='"Liberation Sans", sans-serif' text-anchor="start" fill="#000" textLength="45.00" lengthAdjust="spacingAndGlyphs" stroke="#000" stroke-width="0.3" >AIS point</text>
<text x="538.90" y="946.85" font-size="10.90" font-family='"Liberation Sans", sans-serif' text-anchor="start" fill="#000" textLength="127.56" lengthAdjust="spacingAndGlyphs" stroke="#000" stroke-width="0.3" >Confidence limit (95.0%)</text>
<text x="337.00" y="288.00" font-size="18.60" font-family='"Liberation Sans", sans-serif' text-anchor="start" fill="#000" stroke="#000" stroke-width="0.3" >(a)</text>
<text x="337.00" y="571.70" font-size="18.60" font-family='"Liberation Sans", sans-serif' text-anchor="start" fill="#000" stroke="#000" stroke-width="0.3" >(b)</text>
<text x="337.80" y="849.70" font-size="18.60" font-family='"Liberation Sans", sans-serif' text-anchor="start" fill="#000" stroke="#000" stroke-width="0.3" >(c)</text>
<text x="337.00" y="1130.90" font-size="18.60" font-family='"Liberation Sans", sans-serif' text-anchor="start" fill="#000" stroke="#000" stroke-width="0.3" >(d)</text>
</svg>
</body></html>
